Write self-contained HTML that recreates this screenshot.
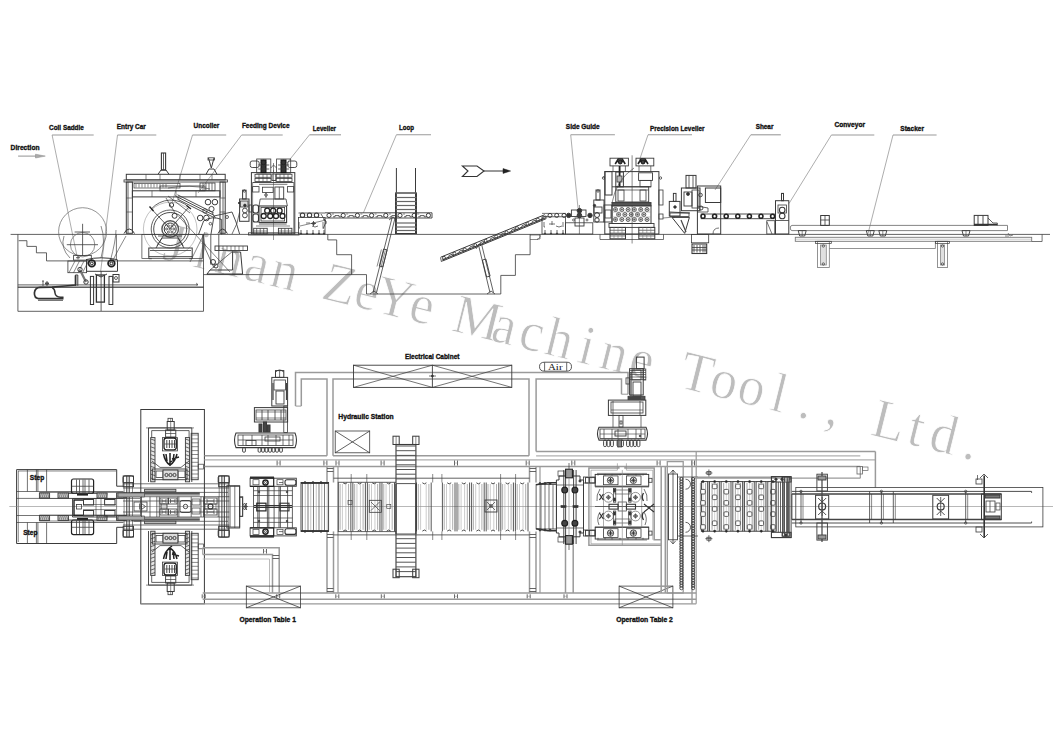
<!DOCTYPE html>
<html><head><meta charset="utf-8"><style>
html,body{margin:0;padding:0;background:#fff;}
svg{display:block;}
text{font-family:"Liberation Sans",sans-serif;font-weight:bold;fill:#111;stroke:#111;stroke-width:0.35;}
</style></head><body>
<svg width="1059" height="749" viewBox="0 0 1059 749">
<!-- WATERMARK -->
<g transform="translate(171.0,261.2) rotate(13.95) scale(0.95,1)"><text x="0.0 29.8 59.6 89.4 119.2 148.9 178.7 208.5 238.3 268.1 297.9 327.7 357.5 387.3 417.1 446.8 476.6 506.4 536.2 566.0 595.8 625.6 655.4 685.2 714.9 744.7 774.5 804.3 834.1 863.9" y="0" text-anchor="middle" font-size="56" style="font-family:'Liberation Serif',serif;font-weight:normal;fill:#bdbdbd;stroke:#fff;stroke-width:0.8;white-space:pre">Jinan ZeYe Machine Tool., Ltd.</text></g>
<g fill="none" stroke="#3a3a3a" stroke-width="0.8">
<text x="49.10" y="130.10" textLength="34.70" lengthAdjust="spacingAndGlyphs" font-size="7.4">Coil Saddle</text><line x1="52.10" y1="135.00" x2="93.70" y2="135.00" stroke="#9a9a9a" stroke-width="1.1"/><line x1="52.10" y1="135.00" x2="77.00" y2="256.00" stroke="#8a8a8a" stroke-width="0.7"/><text x="116.80" y="129.00" textLength="29.00" lengthAdjust="spacingAndGlyphs" font-size="7.4">Entry Car</text><line x1="117.50" y1="135.00" x2="156.30" y2="135.00" stroke="#9a9a9a" stroke-width="1.1"/><line x1="117.50" y1="135.00" x2="100.70" y2="271.00" stroke="#8a8a8a" stroke-width="0.7"/><text x="193.50" y="127.70" textLength="25.90" lengthAdjust="spacingAndGlyphs" font-size="7.4">Uncoiler</text><line x1="192.50" y1="135.00" x2="226.20" y2="135.00" stroke="#9a9a9a" stroke-width="1.1"/><line x1="192.50" y1="135.00" x2="172.00" y2="203.00" stroke="#8a8a8a" stroke-width="0.7"/><text x="241.90" y="127.90" textLength="47.70" lengthAdjust="spacingAndGlyphs" font-size="7.4">Feeding Device</text><line x1="241.60" y1="135.00" x2="282.70" y2="135.00" stroke="#9a9a9a" stroke-width="1.1"/><line x1="241.60" y1="135.00" x2="198.00" y2="193.00" stroke="#8a8a8a" stroke-width="0.7"/><text x="312.70" y="131.00" textLength="23.30" lengthAdjust="spacingAndGlyphs" font-size="7.4">Leveller</text><line x1="309.50" y1="134.80" x2="341.00" y2="134.80" stroke="#9a9a9a" stroke-width="1.1"/><line x1="309.50" y1="134.80" x2="287.00" y2="163.00" stroke="#8a8a8a" stroke-width="0.7"/><text x="399.00" y="129.50" textLength="15.00" lengthAdjust="spacingAndGlyphs" font-size="7.4">Loop</text><line x1="396.40" y1="134.80" x2="431.00" y2="134.80" stroke="#9a9a9a" stroke-width="1.1"/><line x1="396.40" y1="134.80" x2="363.40" y2="212.80" stroke="#8a8a8a" stroke-width="0.7"/><text x="565.80" y="129.00" textLength="33.90" lengthAdjust="spacingAndGlyphs" font-size="7.4">Side Guide</text><line x1="570.70" y1="134.80" x2="614.90" y2="134.80" stroke="#9a9a9a" stroke-width="1.1"/><line x1="570.70" y1="134.80" x2="578.00" y2="208.00" stroke="#8a8a8a" stroke-width="0.7"/><text x="650.00" y="130.50" textLength="54.50" lengthAdjust="spacingAndGlyphs" font-size="7.4">Precision Leveller</text><line x1="648.00" y1="134.80" x2="692.00" y2="134.80" stroke="#9a9a9a" stroke-width="1.1"/><line x1="648.00" y1="134.80" x2="639.50" y2="160.00" stroke="#8a8a8a" stroke-width="0.7"/><text x="755.70" y="129.00" textLength="17.70" lengthAdjust="spacingAndGlyphs" font-size="7.4">Shear</text><line x1="750.80" y1="134.80" x2="780.80" y2="134.80" stroke="#9a9a9a" stroke-width="1.1"/><line x1="750.80" y1="134.80" x2="715.00" y2="190.00" stroke="#8a8a8a" stroke-width="0.7"/><text x="834.50" y="127.00" textLength="30.50" lengthAdjust="spacingAndGlyphs" font-size="7.4">Conveyor</text><line x1="831.40" y1="135.00" x2="874.30" y2="135.00" stroke="#9a9a9a" stroke-width="1.1"/><line x1="831.40" y1="135.00" x2="789.00" y2="203.50" stroke="#8a8a8a" stroke-width="0.7"/><text x="900.30" y="130.50" textLength="23.70" lengthAdjust="spacingAndGlyphs" font-size="7.4">Stacker</text><line x1="893.00" y1="135.00" x2="936.60" y2="135.00" stroke="#9a9a9a" stroke-width="1.1"/><line x1="893.00" y1="135.00" x2="868.00" y2="233.70" stroke="#8a8a8a" stroke-width="0.7"/><text x="10.60" y="150.00" textLength="29.00" lengthAdjust="spacingAndGlyphs" font-size="7.4">Direction</text><line x1="18.10" y1="156.10" x2="38.00" y2="156.10" stroke="#777" stroke-width="0.8"/><polygon points="35.50,154.20 45.30,156.10 35.50,158.00" stroke="#888" stroke-width="0.5" fill="#aaa"/><line x1="10.60" y1="234.40" x2="1050.00" y2="234.40"/><polyline points="17.90,234.40 17.90,311.30 203.50,311.30 203.50,234.40"/><line x1="17.90" y1="287.20" x2="203.50" y2="287.20"/><polyline points="18.70,240.70 26.90,240.70 26.90,246.40 36.40,246.40 36.40,252.80 46.50,252.80 46.50,260.90 203.50,260.90"/><polyline points="203.50,274.60 366.50,274.60 366.50,294.00 500.80,294.00 500.80,275.40"/><polyline points="327.80,234.40 327.80,239.90 336.70,239.90 336.70,254.70 351.60,254.70 351.60,274.60"/><polyline points="530.10,234.40 530.10,254.70 515.40,254.70 515.40,275.40 500.80,275.40"/><polyline points="530.10,239.50 538.00,239.50 540.00,237.00 540.00,234.40" stroke-width="0.6"/><circle cx="82.60" cy="231.70" r="24.00" stroke="#666" stroke-width="0.7"/><circle cx="82.60" cy="244.70" r="12.20" stroke="#666" stroke-width="0.7"/><line x1="82.60" y1="223.80" x2="82.60" y2="256.00"/><line x1="74.60" y1="232.00" x2="90.00" y2="232.00"/><line x1="66.80" y1="244.70" x2="98.00" y2="244.70"/><path d="M101,258 Q106,240 101,226" stroke-width="0.6"/><path d="M110,262 Q116,240 116,230" stroke-width="0.6"/><path d="M112,262 Q118,250 126,236" stroke-width="0.6"/><path d="M70,258 Q60,248 64,236" stroke-width="0.6"/><rect x="73.60" y="255.40" width="17.70" height="4.70"/><line x1="76.00" y1="257.70" x2="80.00" y2="257.70"/><line x1="78.00" y1="256.00" x2="78.00" y2="259.40"/><rect x="67.90" y="261.00" width="18.70" height="11.70"/><line x1="69.00" y1="272.70" x2="75.00" y2="261.00" stroke-width="0.6"/><line x1="73.50" y1="272.70" x2="79.50" y2="261.00" stroke-width="0.6"/><line x1="78.00" y1="272.70" x2="84.00" y2="261.00" stroke-width="0.6"/><line x1="82.50" y1="272.70" x2="88.50" y2="261.00" stroke-width="0.6"/><polyline points="86.60,259.60 86.60,271.30 117.50,271.30 117.50,259.60" stroke-width="1.0"/><circle cx="91.80" cy="263.40" r="3.30" stroke="#222" stroke-width="1.8"/><circle cx="91.80" cy="263.40" r="1.40" stroke="#222" stroke-width="1.0"/><circle cx="111.40" cy="263.40" r="3.30" stroke="#222" stroke-width="1.8"/><circle cx="111.40" cy="263.40" r="1.40" stroke="#222" stroke-width="1.0"/><line x1="116.40" y1="234.40" x2="116.40" y2="259.60" stroke-width="0.7"/><path d="M86,259.6 Q101,256 117,259.6" stroke-width="1.0"/><line x1="17.90" y1="284.90" x2="198.00" y2="284.90"/><line x1="17.90" y1="287.20" x2="203.50" y2="287.20"/><path d="M196,283 l2,1.5 l-2,0.6" stroke-width="0.6"/><rect x="90.40" y="276.40" width="3.20" height="28.10" stroke="#333" stroke-width="1.0"/><rect x="109.00" y="276.40" width="3.80" height="28.10" stroke="#333" stroke-width="1.0"/><rect x="96.40" y="275.00" width="8.00" height="27.10" stroke="#333" stroke-width="1.3"/><line x1="101.10" y1="271.00" x2="101.10" y2="311.00"/><path d="M95,274 L101,277 L107,274" stroke-width="1.0"/><rect x="113.00" y="274.50" width="6.00" height="7.50" stroke-width="1.0"/><circle cx="116.00" cy="278.00" r="1.50"/><polyline points="75.40,285.80 75.40,275.00 77.80,275.00 77.80,285.80" stroke-width="1.0"/><path d="M80,270 L86,282" stroke="#777" stroke-width="2.2"/><circle cx="80.00" cy="269.50" r="2.20" stroke-width="1.0"/><circle cx="86.00" cy="282.00" r="2.20" stroke-width="1.0"/><path d="M63.5,298.6 L38.5,298.6 Q34.2,298.2 34.4,292.8 Q35,287.6 40,287.4 L52,287.2 Q66,285.8 75.6,285 L75.6,275.5" stroke="#333" stroke-width="1.7"/><path d="M52,287.4 Q55,289 55,293 Q55.5,296.8 60.5,297.2 L63.5,297.2" stroke="#333" stroke-width="1.5"/><line x1="38.00" y1="300.30" x2="63.00" y2="300.30" stroke="#555" stroke-width="1.0"/><line x1="43.00" y1="281.00" x2="43.00" y2="286.00"/><line x1="42.00" y1="281.00" x2="44.00" y2="281.00"/><circle cx="47.00" cy="283.50" r="1.50"/><line x1="45.00" y1="283.50" x2="49.00" y2="283.50"/><line x1="47.00" y1="281.50" x2="47.00" y2="285.50"/><rect x="126.30" y="174.30" width="98.90" height="5.60" stroke-width="1.0"/><rect x="124.00" y="179.90" width="103.40" height="2.10" stroke-width="0.8"/><line x1="146.00" y1="174.30" x2="146.00" y2="179.90" stroke-width="0.6"/><line x1="160.00" y1="174.30" x2="160.00" y2="179.90" stroke-width="0.6"/><line x1="180.00" y1="174.30" x2="180.00" y2="179.90" stroke-width="0.6"/><line x1="200.00" y1="174.30" x2="200.00" y2="179.90" stroke-width="0.6"/><line x1="212.00" y1="174.30" x2="212.00" y2="179.90" stroke-width="0.6"/><rect x="126.30" y="182.00" width="6.10" height="51.30" stroke-width="1.0"/><rect x="220.00" y="182.00" width="5.20" height="51.30" stroke-width="1.0"/><line x1="128.00" y1="182.00" x2="128.00" y2="233.00"/><line x1="223.00" y1="182.00" x2="223.00" y2="233.00"/><path d="M124,233.6 Q126,229 129.3,229 Q132.5,229 134.5,233.6" stroke-width="1.0"/><path d="M218,233.6 Q220,229 222.6,229 Q225,229 227.4,233.6" stroke-width="1.0"/><line x1="126.30" y1="198.00" x2="132.40" y2="198.00" stroke-width="0.6"/><line x1="220.00" y1="198.00" x2="225.20" y2="198.00" stroke-width="0.6"/><line x1="126.30" y1="212.00" x2="132.40" y2="212.00" stroke-width="0.6"/><line x1="220.00" y1="212.00" x2="225.20" y2="212.00" stroke-width="0.6"/><rect x="132.40" y="190.80" width="87.60" height="6.10" stroke-width="1.0"/><line x1="152.00" y1="190.80" x2="152.00" y2="196.90" stroke-width="0.6"/><line x1="176.00" y1="190.80" x2="176.00" y2="196.90" stroke-width="0.6"/><line x1="196.00" y1="190.80" x2="196.00" y2="196.90" stroke-width="0.6"/><rect x="134.00" y="183.50" width="46.00" height="4.50" stroke-width="0.7"/><line x1="136.00" y1="184.00" x2="136.00" y2="187.50" stroke-width="0.6"/><line x1="139.00" y1="184.00" x2="139.00" y2="187.50" stroke-width="0.6"/><line x1="142.00" y1="184.00" x2="142.00" y2="187.50" stroke-width="0.6"/><line x1="145.00" y1="184.00" x2="145.00" y2="187.50" stroke-width="0.6"/><line x1="148.00" y1="184.00" x2="148.00" y2="187.50" stroke-width="0.6"/><line x1="151.00" y1="184.00" x2="151.00" y2="187.50" stroke-width="0.6"/><line x1="154.00" y1="184.00" x2="154.00" y2="187.50" stroke-width="0.6"/><line x1="157.00" y1="184.00" x2="157.00" y2="187.50" stroke-width="0.6"/><line x1="160.00" y1="184.00" x2="160.00" y2="187.50" stroke-width="0.6"/><line x1="163.00" y1="184.00" x2="163.00" y2="187.50" stroke-width="0.6"/><line x1="166.00" y1="184.00" x2="166.00" y2="187.50" stroke-width="0.6"/><rect x="160.00" y="186.00" width="45.00" height="4.80" stroke-width="0.8"/><path d="M168,188 Q190,184 210,189" stroke-width="0.6"/><rect x="200.00" y="183.00" width="15.00" height="7.80" stroke-width="0.8"/><line x1="203.00" y1="183.00" x2="203.00" y2="190.80" stroke-width="0.7"/><line x1="206.00" y1="183.00" x2="206.00" y2="190.80" stroke-width="0.7"/><line x1="209.00" y1="183.00" x2="209.00" y2="190.80" stroke-width="0.7"/><line x1="212.00" y1="183.00" x2="212.00" y2="190.80" stroke-width="0.7"/><rect x="161.40" y="153.00" width="4.20" height="17.00" stroke-width="1.1"/><line x1="163.50" y1="153.00" x2="163.50" y2="170.00"/><polyline points="158.00,174.30 161.00,170.00 166.00,170.00 169.00,174.30" stroke-width="1.0"/><path d="M208.5,158 L211.3,168 L214,158" stroke-width="1.0"/><rect x="208.00" y="157.80" width="6.50" height="2.20" stroke-width="0.8"/><polyline points="206.00,174.30 209.00,169.00 214.00,169.00 217.00,174.30" stroke-width="1.0"/><circle cx="170.20" cy="229.00" r="26.80" stroke="#999" stroke-width="0.6"/><circle cx="170.20" cy="229.00" r="19.00" stroke-width="0.8"/><circle cx="170.20" cy="229.00" r="16.50" stroke-width="0.9"/><circle cx="170.20" cy="229.00" r="8.30" stroke="#555" stroke-width="1.4"/><circle cx="170.20" cy="229.00" r="6.00" stroke-width="1.0"/><circle cx="173.80" cy="229.00" r="1.00" stroke-width="0.8"/><circle cx="172.00" cy="232.12" r="1.00" stroke-width="0.8"/><circle cx="168.40" cy="232.12" r="1.00" stroke-width="0.8"/><circle cx="166.60" cy="229.00" r="1.00" stroke-width="0.8"/><circle cx="168.40" cy="225.88" r="1.00" stroke-width="0.8"/><circle cx="172.00" cy="225.88" r="1.00" stroke-width="0.8"/><circle cx="170.20" cy="229.00" r="1.20" stroke-width="0.8"/><path d="M151.4,208.9 L170.1,228.8 L188.8,207.2" stroke-width="0.8"/><path d="M151.4,208.9 A26,26 0 0 1 188.8,207.2" stroke-width="0.8"/><line x1="149.50" y1="206.50" x2="153.50" y2="211.00" stroke="#222" stroke-width="1.3"/><line x1="186.50" y1="205.50" x2="191.00" y2="209.00" stroke="#222" stroke-width="1.3"/><line x1="177.50" y1="194.80" x2="213.80" y2="213.00" stroke-width="0.9"/><line x1="177.50" y1="197.00" x2="213.80" y2="215.20" stroke-width="0.9"/><line x1="177.50" y1="199.20" x2="213.80" y2="217.40" stroke-width="0.9"/><line x1="175.50" y1="195.50" x2="179.00" y2="199.50" stroke-width="0.8"/><line x1="212.00" y1="213.00" x2="215.50" y2="218.00" stroke-width="0.8"/><circle cx="208.00" cy="202.10" r="2.80" stroke-width="1.0"/><circle cx="214.90" cy="202.10" r="2.80" stroke-width="1.0"/><circle cx="200.20" cy="218.00" r="2.80" stroke-width="1.0"/><circle cx="206.40" cy="218.00" r="2.80" stroke-width="1.0"/><circle cx="174.60" cy="215.80" r="2.50" stroke-width="1.0"/><circle cx="171.50" cy="205.00" r="2.20" stroke-width="1.0"/><circle cx="211.50" cy="209.00" r="2.60" stroke-width="0.9"/><circle cx="205.00" cy="211.00" r="2.20" stroke-width="0.8"/><path d="M166,198 L175,213 M168,196 L190,213" stroke-width="0.7"/><path d="M198.5,234.5 L203.6,221 Q212,215.5 221.7,219.5 L221.7,234.5" stroke-width="0.9"/><circle cx="210.40" cy="223.70" r="1.30" stroke-width="0.8"/><line x1="178.60" y1="216.30" x2="230.00" y2="272.00" stroke-width="0.6"/><line x1="157.00" y1="245.80" x2="164.40" y2="233.90" stroke-width="0.8"/><line x1="183.20" y1="245.80" x2="175.80" y2="233.90" stroke-width="0.8"/><rect x="148.80" y="248.00" width="43.40" height="8.70" stroke-width="1.0"/><line x1="150.00" y1="250.50" x2="191.00" y2="250.50"/><path d="M156,248 L162,238 L178,238 L184,248" stroke-width="0.9"/><line x1="158.00" y1="236.00" x2="182.00" y2="236.00"/><path d="M148.8,256.7 l0,2 l3,0 M192.2,256.7 l0,2 l-3,0" stroke-width="0.8"/><rect x="141.90" y="234.40" width="60.70" height="24.10" stroke-width="0.7"/><line x1="205.00" y1="232.00" x2="190.00" y2="262.00" stroke-width="0.6"/><path d="M211,234 L214,216 L232,212 L236,222 L239.6,234" stroke-width="0.9"/><circle cx="227.00" cy="217.00" r="1.50"/><path d="M232,234 Q238,224 239.6,212" stroke-width="0.7"/><polyline points="206.90,274.20 210.00,270.00 232.60,270.00 232.60,252.00 240.60,252.00 242.60,274.20" stroke-width="1.0"/><line x1="206.90" y1="274.20" x2="242.60" y2="274.20" stroke-width="1.3"/><line x1="210.00" y1="270.00" x2="233.00" y2="251.00" stroke-width="0.7"/><rect x="215.00" y="246.00" width="32.50" height="4.50" stroke-width="0.9"/><line x1="219.00" y1="246.00" x2="219.00" y2="250.50" stroke-width="0.6"/><line x1="223.00" y1="246.00" x2="223.00" y2="250.50" stroke-width="0.6"/><line x1="227.00" y1="246.00" x2="227.00" y2="250.50" stroke-width="0.6"/><line x1="231.00" y1="246.00" x2="231.00" y2="250.50" stroke-width="0.6"/><line x1="235.00" y1="246.00" x2="235.00" y2="250.50" stroke-width="0.6"/><line x1="239.00" y1="246.00" x2="239.00" y2="250.50" stroke-width="0.6"/><line x1="243.00" y1="246.00" x2="243.00" y2="250.50" stroke-width="0.6"/><line x1="210.80" y1="234.40" x2="210.80" y2="264.70"/><line x1="218.80" y1="234.40" x2="218.80" y2="264.70"/><circle cx="213.00" cy="262.00" r="2.50" stroke-width="1.0"/><circle cx="216.00" cy="266.00" r="2.00" stroke-width="1.0"/><path d="M203.5,234.4 L205,248 L214,268" stroke-width="0.7"/><rect x="251.40" y="172.60" width="43.40" height="61.40" stroke-width="1.0"/><rect x="250.2" y="161" width="9" height="6.5" rx="2" stroke-width="0.9"/><rect x="287.8" y="161" width="9" height="6.5" rx="2" stroke-width="0.9"/><rect x="256.70" y="159.00" width="14.10" height="14.10" stroke-width="0.8"/><rect x="261.00" y="160.00" width="5.00" height="12.60" stroke="#111" stroke-width="1.0" fill="#333"/><line x1="258.20" y1="165.00" x2="269.30" y2="165.00" stroke-width="0.8"/><line x1="258.20" y1="169.00" x2="269.30" y2="169.00" stroke-width="0.8"/><circle cx="263.50" cy="162.50" r="2.20" stroke="#222" stroke-width="1.0"/><rect x="276.60" y="159.00" width="14.10" height="14.10" stroke-width="0.8"/><rect x="281.00" y="160.00" width="5.00" height="12.60" stroke="#111" stroke-width="1.0" fill="#333"/><line x1="278.10" y1="165.00" x2="289.20" y2="165.00" stroke-width="0.8"/><line x1="278.10" y1="169.00" x2="289.20" y2="169.00" stroke-width="0.8"/><circle cx="283.50" cy="162.50" r="2.20" stroke="#222" stroke-width="1.0"/><line x1="273.50" y1="163.00" x2="273.50" y2="172.00" stroke-width="0.6"/><path d="M270.8,168 L273.5,165 L276.6,168" stroke-width="0.7"/><rect x="255.00" y="174.30" width="16.00" height="3.00" stroke-width="0.8"/><rect x="255.00" y="178.40" width="16.00" height="3.00" stroke-width="0.8"/><line x1="259.00" y1="174.30" x2="259.00" y2="181.40" stroke-width="0.6"/><line x1="263.00" y1="174.30" x2="263.00" y2="181.40" stroke-width="0.6"/><line x1="267.00" y1="174.30" x2="267.00" y2="181.40" stroke-width="0.6"/><rect x="276.00" y="174.30" width="16.00" height="3.00" stroke-width="0.8"/><rect x="276.00" y="178.40" width="16.00" height="3.00" stroke-width="0.8"/><line x1="280.00" y1="174.30" x2="280.00" y2="181.40" stroke-width="0.6"/><line x1="284.00" y1="174.30" x2="284.00" y2="181.40" stroke-width="0.6"/><line x1="288.00" y1="174.30" x2="288.00" y2="181.40" stroke-width="0.6"/><rect x="272.00" y="174.00" width="4.00" height="6.50" stroke-width="0.9"/><polyline points="252.60,182.50 293.70,182.50" stroke-width="0.9"/><polyline points="252.60,234.00 252.60,182.50" stroke-width="0.6"/><polyline points="293.70,234.00 293.70,182.50" stroke-width="0.6"/><line x1="259.00" y1="184.30" x2="287.40" y2="184.30" stroke-width="0.7"/><rect x="252.60" y="186.60" width="6.40" height="5.40" stroke-width="0.8"/><rect x="287.40" y="186.60" width="6.30" height="5.40" stroke-width="0.8"/><rect x="262.50" y="187.20" width="10.60" height="5.30" stroke-width="0.8"/><rect x="274.90" y="187.00" width="8.80" height="12.00" stroke-width="0.9"/><line x1="279.30" y1="187.00" x2="279.30" y2="199.00" stroke-width="0.7"/><circle cx="266.00" cy="195.00" r="1.30" stroke-width="0.8"/><line x1="266.00" y1="192.50" x2="266.00" y2="198.00" stroke-width="0.7"/><polyline points="259.00,206.00 260.20,199.00 286.00,199.00 287.40,206.00" stroke-width="0.8"/><line x1="273.50" y1="170.00" x2="273.50" y2="240.00" stroke-width="0.5"/><rect x="259.00" y="206.00" width="27.60" height="16.50" stroke-width="1.1"/><rect x="261.00" y="207.50" width="23.60" height="13.50" stroke-width="0.8"/><circle cx="267.20" cy="210.70" r="2.50" stroke="#222" stroke-width="1.3"/><circle cx="273.10" cy="210.70" r="2.50" stroke="#222" stroke-width="1.3"/><circle cx="279.60" cy="210.70" r="2.50" stroke="#222" stroke-width="1.3"/><circle cx="263.70" cy="216.00" r="2.50" stroke="#222" stroke-width="1.3"/><circle cx="270.20" cy="216.00" r="2.50" stroke="#222" stroke-width="1.3"/><circle cx="276.00" cy="216.00" r="2.50" stroke="#222" stroke-width="1.3"/><circle cx="282.50" cy="216.00" r="2.50" stroke="#222" stroke-width="1.3"/><rect x="253" y="205" width="5.5" height="8" rx="2" stroke-width="1.1" stroke="#333"/><rect x="253" y="214" width="5.5" height="8" rx="2" stroke-width="1.1" stroke="#333"/><line x1="259.00" y1="224.00" x2="286.60" y2="224.00" stroke-width="0.8"/><line x1="256.00" y1="226.00" x2="290.00" y2="226.00" stroke-width="0.6"/><rect x="253.70" y="228.30" width="13.50" height="5.70" stroke-width="0.9"/><line x1="256.70" y1="228.30" x2="256.70" y2="234.00" stroke-width="0.7"/><line x1="260.20" y1="228.30" x2="260.20" y2="234.00" stroke-width="0.7"/><line x1="263.70" y1="228.30" x2="263.70" y2="234.00" stroke-width="0.7"/><line x1="253.70" y1="231.00" x2="267.20" y2="231.00" stroke-width="0.6"/><rect x="278.40" y="228.30" width="13.50" height="5.70" stroke-width="0.9"/><line x1="281.40" y1="228.30" x2="281.40" y2="234.00" stroke-width="0.7"/><line x1="284.90" y1="228.30" x2="284.90" y2="234.00" stroke-width="0.7"/><line x1="288.40" y1="228.30" x2="288.40" y2="234.00" stroke-width="0.7"/><line x1="278.40" y1="231.00" x2="291.90" y2="231.00" stroke-width="0.6"/><rect x="248.50" y="232.80" width="50.50" height="2.20" stroke-width="0.8"/><rect x="242.60" y="190.20" width="3.50" height="8.80" stroke-width="1.0"/><circle cx="244.35" cy="191.00" r="1.20" stroke-width="0.8"/><rect x="239.60" y="199.00" width="9.40" height="22.30" stroke-width="1.0"/><rect x="240.50" y="201.00" width="7.50" height="6.00" stroke-width="0.8" fill="#ddd"/><circle cx="244.90" cy="205.40" r="1.30" fill="#333"/><circle cx="244.90" cy="210.50" r="2.40" stroke-width="0.9"/><circle cx="244.90" cy="215.40" r="2.40" stroke-width="0.9"/><rect x="249.00" y="205.00" width="3.00" height="7.00" stroke-width="0.8"/><line x1="238.00" y1="203.00" x2="240.00" y2="203.00" stroke="#222" stroke-width="1.4"/><rect x="298.50" y="217.50" width="26.50" height="16.50" stroke-width="0.8"/><circle cx="302.50" cy="215.20" r="2.20" stroke-width="1.1"/><circle cx="309.50" cy="215.20" r="2.20" stroke-width="1.1"/><circle cx="316.50" cy="215.20" r="2.20" stroke-width="1.1"/><line x1="298.50" y1="213.00" x2="325.00" y2="213.00" stroke-width="0.8"/><path d="M299,222 l0,6 l1,0 M306,223 l4,0 M312,226 q3,2 6,0 M323,222 l0,6" stroke-width="0.7"/><circle cx="313.50" cy="223.50" r="1.20"/><line x1="311.00" y1="223.50" x2="316.00" y2="223.50"/><line x1="313.50" y1="221.00" x2="313.50" y2="226.00"/><line x1="301.00" y1="230.00" x2="301.00" y2="234.00" stroke-width="0.8"/><circle cx="301.00" cy="233.60" r="0.60" fill="#333"/><line x1="307.00" y1="230.00" x2="307.00" y2="234.00" stroke-width="0.8"/><circle cx="307.00" cy="233.60" r="0.60" fill="#333"/><line x1="313.00" y1="230.00" x2="313.00" y2="234.00" stroke-width="0.8"/><circle cx="313.00" cy="233.60" r="0.60" fill="#333"/><line x1="319.00" y1="230.00" x2="319.00" y2="234.00" stroke-width="0.8"/><circle cx="319.00" cy="233.60" r="0.60" fill="#333"/><line x1="324.00" y1="230.00" x2="324.00" y2="234.00" stroke-width="0.8"/><circle cx="324.00" cy="233.60" r="0.60" fill="#333"/><path d="M321,214 L326,222 L323,229" stroke-width="0.8"/><line x1="325.00" y1="212.80" x2="432.00" y2="212.80" stroke-width="0.9"/><line x1="325.00" y1="218.00" x2="432.00" y2="218.00" stroke-width="0.9"/><line x1="432.00" y1="212.80" x2="432.00" y2="218.00" stroke-width="0.9"/><circle cx="329.00" cy="215.40" r="2.10" stroke-width="1.0"/><path d="M333.0,216.8 l2,0 l0,-1.2 l4,0 l0,1.2 l2,0" stroke="#333" stroke-width="0.8"/><line x1="332.00" y1="214.00" x2="334.00" y2="214.00" stroke-width="0.6"/><circle cx="343.20" cy="215.40" r="2.10" stroke-width="1.0"/><path d="M347.2,216.8 l2,0 l0,-1.2 l4,0 l0,1.2 l2,0" stroke="#333" stroke-width="0.8"/><line x1="346.20" y1="214.00" x2="348.20" y2="214.00" stroke-width="0.6"/><circle cx="357.40" cy="215.40" r="2.10" stroke-width="1.0"/><path d="M361.4,216.8 l2,0 l0,-1.2 l4,0 l0,1.2 l2,0" stroke="#333" stroke-width="0.8"/><line x1="360.40" y1="214.00" x2="362.40" y2="214.00" stroke-width="0.6"/><circle cx="371.60" cy="215.40" r="2.10" stroke-width="1.0"/><path d="M375.6,216.8 l2,0 l0,-1.2 l4,0 l0,1.2 l2,0" stroke="#333" stroke-width="0.8"/><line x1="374.60" y1="214.00" x2="376.60" y2="214.00" stroke-width="0.6"/><circle cx="385.80" cy="215.40" r="2.10" stroke-width="1.0"/><path d="M389.8,216.8 l2,0 l0,-1.2 l4,0 l0,1.2 l2,0" stroke="#333" stroke-width="0.8"/><line x1="388.80" y1="214.00" x2="390.80" y2="214.00" stroke-width="0.6"/><circle cx="400.00" cy="215.40" r="2.10" stroke-width="1.0"/><path d="M404.0,216.8 l2,0 l0,-1.2 l4,0 l0,1.2 l2,0" stroke="#333" stroke-width="0.8"/><line x1="403.00" y1="214.00" x2="405.00" y2="214.00" stroke-width="0.6"/><circle cx="414.20" cy="215.40" r="2.10" stroke-width="1.0"/><path d="M418.2,216.8 l2,0 l0,-1.2 l4,0 l0,1.2 l2,0" stroke="#333" stroke-width="0.8"/><line x1="417.20" y1="214.00" x2="419.20" y2="214.00" stroke-width="0.6"/><circle cx="428.40" cy="215.40" r="2.10" stroke-width="1.0"/><line x1="326.00" y1="220.00" x2="300.00" y2="226.00" stroke-width="0.6"/><path d="M323,219 l3,2 l0,3" stroke-width="0.7"/><line x1="396.40" y1="168.00" x2="396.40" y2="234.00" stroke-width="1.0"/><line x1="415.50" y1="168.00" x2="415.50" y2="234.00" stroke-width="1.0"/><rect x="395.50" y="193.00" width="21.00" height="40.50" stroke-width="1.0"/><line x1="395.50" y1="193.00" x2="416.50" y2="193.00" stroke="#666" stroke-width="1.2"/><line x1="395.50" y1="197.50" x2="416.50" y2="197.50" stroke="#666" stroke-width="1.2"/><line x1="395.50" y1="201.50" x2="416.50" y2="201.50" stroke="#666" stroke-width="1.2"/><line x1="395.50" y1="205.50" x2="416.50" y2="205.50" stroke="#666" stroke-width="1.2"/><line x1="395.50" y1="209.50" x2="416.50" y2="209.50" stroke="#666" stroke-width="1.2"/><line x1="395.50" y1="223.00" x2="416.50" y2="223.00" stroke="#666" stroke-width="1.2"/><line x1="395.50" y1="227.00" x2="416.50" y2="227.00" stroke="#666" stroke-width="1.2"/><line x1="395.50" y1="230.50" x2="416.50" y2="230.50" stroke="#666" stroke-width="1.2"/><path d="M392,218 L373,292.7 M395,218 L376.5,292.7" stroke-width="0.8"/><path d="M383.6,249 L379.3,266 L382.8,266.9 L387.1,249.9 Z" stroke-width="0.9"/><path d="M381.4,249.5 L377,266.5 M385.3,250.5 L381,267.5" stroke-width="0.6"/><path d="M370,294 l4,-3 l4,3" stroke-width="0.8"/><path d="M389,220 l4,-3 l4,3" stroke-width="0.8"/><polygon points="462.40,166.00 477.00,166.00 484.00,171.00 477.00,176.50 462.40,176.50 468.00,171.00" stroke="#333" stroke-width="1.1"/><line x1="484.00" y1="171.00" x2="503.00" y2="171.00" stroke="#333" stroke-width="1.0"/><polygon points="503.00,168.60 510.60,171.00 503.00,173.40" stroke="#222" stroke-width="0.5" fill="#222"/><line x1="440.70" y1="257.20" x2="544.80" y2="214.70" stroke-width="1.0"/><line x1="442.29" y1="261.09" x2="546.39" y2="218.59" stroke-width="1.0"/><line x1="441.91" y1="260.16" x2="546.01" y2="217.66" stroke-width="1.0"/><circle cx="444.00" cy="257.90" r="1.50" stroke-width="0.9"/><path d="M446.5,257.8 l2.5,-1 l0,-1.3 l3.2,-1.3 l0,1.3 l1.5,-0.6" stroke="#333" stroke-width="0.8"/><circle cx="454.43" cy="253.64" r="1.50" stroke-width="0.9"/><path d="M456.9,253.5 l2.5,-1 l0,-1.3 l3.2,-1.3 l0,1.3 l1.5,-0.6" stroke="#333" stroke-width="0.8"/><circle cx="464.86" cy="249.38" r="1.50" stroke-width="0.9"/><path d="M467.4,249.3 l2.5,-1 l0,-1.3 l3.2,-1.3 l0,1.3 l1.5,-0.6" stroke="#333" stroke-width="0.8"/><circle cx="475.29" cy="245.13" r="1.50" stroke-width="0.9"/><path d="M477.8,245.0 l2.5,-1 l0,-1.3 l3.2,-1.3 l0,1.3 l1.5,-0.6" stroke="#333" stroke-width="0.8"/><circle cx="485.72" cy="240.87" r="1.50" stroke-width="0.9"/><path d="M488.2,240.8 l2.5,-1 l0,-1.3 l3.2,-1.3 l0,1.3 l1.5,-0.6" stroke="#333" stroke-width="0.8"/><circle cx="496.15" cy="236.61" r="1.50" stroke-width="0.9"/><path d="M498.7,236.5 l2.5,-1 l0,-1.3 l3.2,-1.3 l0,1.3 l1.5,-0.6" stroke="#333" stroke-width="0.8"/><circle cx="506.58" cy="232.35" r="1.50" stroke-width="0.9"/><path d="M509.1,232.3 l2.5,-1 l0,-1.3 l3.2,-1.3 l0,1.3 l1.5,-0.6" stroke="#333" stroke-width="0.8"/><circle cx="517.01" cy="228.09" r="1.50" stroke-width="0.9"/><path d="M519.5,228.0 l2.5,-1 l0,-1.3 l3.2,-1.3 l0,1.3 l1.5,-0.6" stroke="#333" stroke-width="0.8"/><circle cx="527.44" cy="223.84" r="1.50" stroke-width="0.9"/><path d="M529.9,223.7 l2.5,-1 l0,-1.3 l3.2,-1.3 l0,1.3 l1.5,-0.6" stroke="#333" stroke-width="0.8"/><circle cx="537.87" cy="219.58" r="1.50" stroke-width="0.9"/><path d="M540.4,219.5 l2.5,-1 l0,-1.3 l3.2,-1.3 l0,1.3 l1.5,-0.6" stroke="#333" stroke-width="0.8"/><line x1="440.50" y1="257.50" x2="441.50" y2="262.00" stroke-width="0.8"/><path d="M479,247 L490,292.7 M482,246 L493.5,292.7" stroke-width="0.8"/><path d="M482.4,260 L486.6,277 L490.1,276.1 L485.9,259.1 Z" stroke-width="0.9"/><path d="M487,294 l4,-3 l4,3" stroke-width="0.8"/><path d="M476,249 l3,-5 l4,1" stroke-width="0.8"/><polyline points="600.00,234.40 600.00,239.50 663.50,239.50 663.50,234.40" stroke-width="0.7"/><polyline points="530.00,235.00 540.00,235.00 540.00,239.00 537.00,239.00" stroke-width="0.6"/><rect x="542.00" y="216.80" width="23.40" height="17.20" stroke-width="0.8"/><circle cx="550.00" cy="215.40" r="2.00" stroke-width="1.0"/><circle cx="556.70" cy="215.40" r="2.00" stroke-width="1.0"/><circle cx="564.00" cy="215.40" r="2.00" stroke-width="1.0"/><line x1="542.00" y1="213.40" x2="566.00" y2="213.40" stroke-width="0.7"/><circle cx="568.70" cy="215.40" r="2.20" stroke-width="1.0" fill="#333"/><circle cx="590.00" cy="215.40" r="2.20" stroke-width="1.0" fill="#333"/><path d="M544,222 l0,5 l1,0 M552,221 l0,4 M549,224 l6,0 M556,226 q3,2 6,0 M563,222 l0,5" stroke-width="0.7"/><line x1="545.00" y1="230.00" x2="545.00" y2="234.00" stroke-width="0.8"/><circle cx="545.00" cy="233.50" r="0.60" fill="#333"/><line x1="551.00" y1="230.00" x2="551.00" y2="234.00" stroke-width="0.8"/><circle cx="551.00" cy="233.50" r="0.60" fill="#333"/><line x1="557.00" y1="230.00" x2="557.00" y2="234.00" stroke-width="0.8"/><circle cx="557.00" cy="233.50" r="0.60" fill="#333"/><line x1="563.00" y1="230.00" x2="563.00" y2="234.00" stroke-width="0.8"/><circle cx="563.00" cy="233.50" r="0.60" fill="#333"/><rect x="565.40" y="222.80" width="27.40" height="11.20" stroke-width="0.8"/><rect x="571.40" y="210.00" width="14.60" height="6.50" stroke-width="0.9"/><circle cx="579.40" cy="210.70" r="2.30" stroke-width="1.0" fill="#333"/><circle cx="579.40" cy="215.40" r="2.30" stroke-width="1.0" fill="#444"/><rect x="575.00" y="218.00" width="9.00" height="8.00" stroke-width="0.9"/><line x1="579.40" y1="205.00" x2="579.40" y2="234.00" stroke-width="0.6"/><circle cx="573.50" cy="220.00" r="1.00" stroke-width="0.7"/><circle cx="587.00" cy="220.00" r="1.00" stroke-width="0.7"/><rect x="593.80" y="200.00" width="10.20" height="22.00" stroke-width="0.9"/><rect x="596.00" y="190.00" width="4.00" height="10.00" stroke-width="1.0"/><circle cx="598.00" cy="191.00" r="1.20" stroke-width="0.8"/><rect x="594.00" y="207.00" width="8.00" height="6.00" stroke-width="0.9"/><circle cx="597.00" cy="215.00" r="2.50" stroke-width="1.0"/><circle cx="597.00" cy="220.00" r="2.20" stroke-width="1.0"/><circle cx="594.50" cy="205.50" r="1.20" fill="#333"/><rect x="604.00" y="205.00" width="8.00" height="17.00" stroke-width="0.9"/><rect x="605.00" y="210.00" width="6.00" height="8.00" stroke-width="0.8"/><rect x="604.80" y="171.60" width="54.10" height="62.40" stroke-width="1.0"/><rect x="605.00" y="171.60" width="7.00" height="23.40" stroke-width="1.0"/><line x1="603.00" y1="177.00" x2="605.00" y2="177.00"/><circle cx="603.50" cy="178.00" r="1.20" stroke-width="0.8"/><circle cx="660.50" cy="178.00" r="1.20" stroke-width="0.8"/><line x1="632.10" y1="155.30" x2="632.10" y2="243.50" stroke-width="0.6"/><rect x="610.00" y="158.20" width="18.40" height="7.70" stroke-width="0.9"/><path d="M615.2,164 L618.2,159 L622.2,159 L625.2,164 M616.2,161.5 L624.2,161.5" stroke="#222" stroke-width="1.6"/><circle cx="620.20" cy="162.00" r="1.80" stroke="#222" stroke-width="1.2" fill="#444"/><line x1="613.00" y1="165.90" x2="613.00" y2="171.60" stroke-width="0.7"/><line x1="625.40" y1="165.90" x2="625.40" y2="171.60" stroke-width="0.7"/><rect x="636.00" y="158.20" width="17.80" height="7.70" stroke-width="0.9"/><path d="M638,164 L641,159 L645,159 L648,164 M639,161.5 L647,161.5" stroke="#222" stroke-width="1.6"/><circle cx="643.00" cy="162.00" r="1.80" stroke="#222" stroke-width="1.2" fill="#444"/><line x1="639.00" y1="165.90" x2="639.00" y2="171.60" stroke-width="0.7"/><line x1="650.80" y1="165.90" x2="650.80" y2="171.60" stroke-width="0.7"/><rect x="615.80" y="172.00" width="7.60" height="14.80" stroke-width="1.0"/><line x1="619.60" y1="166.00" x2="619.60" y2="187.00" stroke="#222" stroke-width="1.8"/><rect x="617.00" y="176.00" width="5.00" height="6.00" stroke-width="0.8" fill="#bbb"/><rect x="638.60" y="172.80" width="13.90" height="7.60" stroke-width="0.9"/><rect x="640.00" y="180.40" width="11.00" height="6.40" stroke-width="0.8"/><line x1="612.00" y1="186.80" x2="651.00" y2="186.80" stroke-width="0.9"/><line x1="615.80" y1="190.00" x2="648.70" y2="190.00" stroke-width="0.7"/><rect x="615.80" y="186.80" width="32.90" height="15.20" stroke-width="0.9"/><rect x="618.00" y="190.00" width="6.00" height="11.00" stroke-width="0.8"/><rect x="640.00" y="190.00" width="6.00" height="11.00" stroke-width="0.8"/><path d="M612,203 Q616,180 634,168" stroke-width="0.6"/><rect x="612.00" y="202.60" width="39.00" height="3.20" stroke-width="1.0" fill="#555"/><rect x="612.00" y="205.80" width="39.00" height="17.70" stroke-width="1.0"/><circle cx="615.50" cy="209.50" r="2.00" stroke-width="0.8"/><line x1="614.20" y1="209.50" x2="616.80" y2="209.50" stroke-width="0.6"/><line x1="615.50" y1="208.20" x2="615.50" y2="210.80" stroke-width="0.6"/><circle cx="621.80" cy="209.50" r="2.00" stroke-width="0.8"/><line x1="620.50" y1="209.50" x2="623.10" y2="209.50" stroke-width="0.6"/><line x1="621.80" y1="208.20" x2="621.80" y2="210.80" stroke-width="0.6"/><circle cx="628.10" cy="209.50" r="2.00" stroke-width="0.8"/><line x1="626.80" y1="209.50" x2="629.40" y2="209.50" stroke-width="0.6"/><line x1="628.10" y1="208.20" x2="628.10" y2="210.80" stroke-width="0.6"/><circle cx="634.40" cy="209.50" r="2.00" stroke-width="0.8"/><line x1="633.10" y1="209.50" x2="635.70" y2="209.50" stroke-width="0.6"/><line x1="634.40" y1="208.20" x2="634.40" y2="210.80" stroke-width="0.6"/><circle cx="640.70" cy="209.50" r="2.00" stroke-width="0.8"/><line x1="639.40" y1="209.50" x2="642.00" y2="209.50" stroke-width="0.6"/><line x1="640.70" y1="208.20" x2="640.70" y2="210.80" stroke-width="0.6"/><circle cx="647.00" cy="209.50" r="2.00" stroke-width="0.8"/><line x1="645.70" y1="209.50" x2="648.30" y2="209.50" stroke-width="0.6"/><line x1="647.00" y1="208.20" x2="647.00" y2="210.80" stroke-width="0.6"/><circle cx="618.60" cy="214.50" r="2.00" stroke-width="0.8"/><line x1="617.30" y1="214.50" x2="619.90" y2="214.50" stroke-width="0.6"/><line x1="618.60" y1="213.20" x2="618.60" y2="215.80" stroke-width="0.6"/><circle cx="624.90" cy="214.50" r="2.00" stroke-width="0.8"/><line x1="623.60" y1="214.50" x2="626.20" y2="214.50" stroke-width="0.6"/><line x1="624.90" y1="213.20" x2="624.90" y2="215.80" stroke-width="0.6"/><circle cx="631.20" cy="214.50" r="2.00" stroke-width="0.8"/><line x1="629.90" y1="214.50" x2="632.50" y2="214.50" stroke-width="0.6"/><line x1="631.20" y1="213.20" x2="631.20" y2="215.80" stroke-width="0.6"/><circle cx="637.50" cy="214.50" r="2.00" stroke-width="0.8"/><line x1="636.20" y1="214.50" x2="638.80" y2="214.50" stroke-width="0.6"/><line x1="637.50" y1="213.20" x2="637.50" y2="215.80" stroke-width="0.6"/><circle cx="643.80" cy="214.50" r="2.00" stroke-width="0.8"/><line x1="642.50" y1="214.50" x2="645.10" y2="214.50" stroke-width="0.6"/><line x1="643.80" y1="213.20" x2="643.80" y2="215.80" stroke-width="0.6"/><circle cx="615.50" cy="219.50" r="2.00" stroke-width="0.8"/><line x1="614.20" y1="219.50" x2="616.80" y2="219.50" stroke-width="0.6"/><line x1="615.50" y1="218.20" x2="615.50" y2="220.80" stroke-width="0.6"/><circle cx="621.80" cy="219.50" r="2.00" stroke-width="0.8"/><line x1="620.50" y1="219.50" x2="623.10" y2="219.50" stroke-width="0.6"/><line x1="621.80" y1="218.20" x2="621.80" y2="220.80" stroke-width="0.6"/><circle cx="628.10" cy="219.50" r="2.00" stroke-width="0.8"/><line x1="626.80" y1="219.50" x2="629.40" y2="219.50" stroke-width="0.6"/><line x1="628.10" y1="218.20" x2="628.10" y2="220.80" stroke-width="0.6"/><circle cx="634.40" cy="219.50" r="2.00" stroke-width="0.8"/><line x1="633.10" y1="219.50" x2="635.70" y2="219.50" stroke-width="0.6"/><line x1="634.40" y1="218.20" x2="634.40" y2="220.80" stroke-width="0.6"/><circle cx="640.70" cy="219.50" r="2.00" stroke-width="0.8"/><line x1="639.40" y1="219.50" x2="642.00" y2="219.50" stroke-width="0.6"/><line x1="640.70" y1="218.20" x2="640.70" y2="220.80" stroke-width="0.6"/><circle cx="647.00" cy="219.50" r="2.00" stroke-width="0.8"/><line x1="645.70" y1="219.50" x2="648.30" y2="219.50" stroke-width="0.6"/><line x1="647.00" y1="218.20" x2="647.00" y2="220.80" stroke-width="0.6"/><line x1="612.00" y1="212.00" x2="651.00" y2="212.00" stroke="#888" stroke-width="0.5"/><line x1="612.00" y1="217.00" x2="651.00" y2="217.00" stroke="#888" stroke-width="0.5"/><rect x="609.00" y="223.50" width="45.00" height="3.90" stroke-width="0.9"/><rect x="610.00" y="227.40" width="15.50" height="11.40" stroke-width="1.0"/><line x1="610.00" y1="230.25" x2="625.50" y2="230.25" stroke-width="0.7"/><line x1="610.00" y1="233.10" x2="625.50" y2="233.10" stroke-width="0.7"/><line x1="610.00" y1="235.95" x2="625.50" y2="235.95" stroke-width="0.7"/><line x1="614.00" y1="227.40" x2="614.00" y2="238.80" stroke="#777" stroke-width="0.6"/><line x1="618.00" y1="227.40" x2="618.00" y2="238.80" stroke="#777" stroke-width="0.6"/><line x1="622.00" y1="227.40" x2="622.00" y2="238.80" stroke="#777" stroke-width="0.6"/><rect x="638.80" y="227.40" width="16.00" height="11.40" stroke-width="1.0"/><line x1="638.80" y1="230.25" x2="654.80" y2="230.25" stroke-width="0.7"/><line x1="638.80" y1="233.10" x2="654.80" y2="233.10" stroke-width="0.7"/><line x1="638.80" y1="235.95" x2="654.80" y2="235.95" stroke-width="0.7"/><line x1="642.80" y1="227.40" x2="642.80" y2="238.80" stroke="#777" stroke-width="0.6"/><line x1="646.80" y1="227.40" x2="646.80" y2="238.80" stroke="#777" stroke-width="0.6"/><line x1="650.80" y1="227.40" x2="650.80" y2="238.80" stroke="#777" stroke-width="0.6"/><rect x="658.90" y="190.00" width="4.10" height="15.00" stroke-width="0.8"/><rect x="658.90" y="214.00" width="4.10" height="5.00" stroke-width="0.8"/><line x1="663.00" y1="218.00" x2="675.00" y2="217.00" stroke-width="0.6"/><rect x="697.40" y="186.00" width="23.30" height="48.00" stroke-width="1.0"/><rect x="705.40" y="188.00" width="15.30" height="14.50" stroke-width="1.0"/><rect x="686.00" y="175.40" width="10.00" height="12.60" stroke-width="1.0"/><line x1="689.00" y1="175.40" x2="689.00" y2="188.00"/><line x1="693.00" y1="175.40" x2="693.00" y2="188.00"/><rect x="681.40" y="188.00" width="18.60" height="22.70" stroke-width="1.0"/><rect x="684.00" y="192.00" width="8.00" height="14.00" stroke-width="0.9"/><circle cx="688.00" cy="194.00" r="1.50" fill="#333"/><rect x="692.00" y="190.00" width="7.00" height="18.00" stroke-width="0.8"/><circle cx="700.50" cy="195.00" r="1.80" stroke-width="0.9"/><circle cx="701.00" cy="208.00" r="2.00" stroke-width="0.9"/><path d="M697,206 L708,208 L708,212 L697,212" stroke-width="0.8"/><polygon points="672.00,217.40 689.40,217.40 684.70,233.40" stroke-width="1.0"/><line x1="681.00" y1="220.00" x2="686.00" y2="232.00" stroke="#444" stroke-width="1.2"/><rect x="669.30" y="201.40" width="10.70" height="14.60" stroke-width="1.0"/><rect x="673.40" y="193.40" width="2.60" height="8.00" stroke-width="1.0"/><circle cx="675.00" cy="207.00" r="1.30" fill="#333"/><line x1="669.00" y1="212.00" x2="690.00" y2="213.00" stroke="#444" stroke-width="1.2"/><rect x="670.00" y="213.00" width="19.00" height="3.50" stroke-width="0.8"/><path d="M713,234 q0,-6 6,-6" stroke-width="0.7"/><rect x="691.40" y="234.40" width="17.30" height="8.40" stroke-width="0.8"/><rect x="692.00" y="244.00" width="14.70" height="9.50" stroke-width="1.1"/><line x1="694.00" y1="245.00" x2="694.00" y2="252.50" stroke-width="0.8"/><line x1="697.00" y1="245.00" x2="697.00" y2="252.50" stroke-width="0.8"/><line x1="700.00" y1="245.00" x2="700.00" y2="252.50" stroke-width="0.8"/><line x1="703.00" y1="245.00" x2="703.00" y2="252.50" stroke-width="0.8"/><line x1="705.00" y1="245.00" x2="705.00" y2="252.50" stroke-width="0.8"/><line x1="692.00" y1="247.50" x2="706.70" y2="247.50" stroke-width="0.8"/><line x1="692.00" y1="250.00" x2="706.70" y2="250.00" stroke-width="0.8"/><line x1="700.70" y1="214.00" x2="774.80" y2="214.00" stroke-width="0.9"/><line x1="700.70" y1="218.70" x2="774.80" y2="218.70" stroke-width="0.9"/><circle cx="703.00" cy="216.30" r="2.00" stroke="#222" stroke-width="1.6" fill="#fff"/><circle cx="714.60" cy="216.30" r="2.00" stroke="#222" stroke-width="1.6" fill="#fff"/><circle cx="726.20" cy="216.30" r="2.00" stroke="#222" stroke-width="1.6" fill="#fff"/><circle cx="737.80" cy="216.30" r="2.00" stroke="#222" stroke-width="1.6" fill="#fff"/><circle cx="749.40" cy="216.30" r="2.00" stroke="#222" stroke-width="1.6" fill="#fff"/><circle cx="761.00" cy="216.30" r="2.00" stroke="#222" stroke-width="1.6" fill="#fff"/><circle cx="772.60" cy="216.30" r="2.00" stroke="#222" stroke-width="1.6" fill="#fff"/><rect x="766.80" y="220.70" width="8.00" height="13.30" stroke-width="0.8"/><line x1="767.00" y1="222.00" x2="772.00" y2="234.00" stroke-width="0.7"/><rect x="775.50" y="200.70" width="13.30" height="33.30" stroke-width="1.0"/><rect x="781.50" y="193.40" width="2.00" height="7.30" stroke-width="1.0"/><circle cx="782.20" cy="210.00" r="2.80" stroke-width="1.1"/><circle cx="782.20" cy="216.00" r="2.80" stroke-width="1.1"/><rect x="778.00" y="205.00" width="8.50" height="8.00" stroke-width="0.8"/><line x1="775.50" y1="220.50" x2="788.80" y2="220.50" stroke-width="0.8"/><path d="M792,225.4 L1007.5,225.4 L1007.5,230.6 L792,230.6 Q790.3,230.6 790.3,228 Q790.3,225.4 792,225.4 Z" stroke="#777" stroke-width="0.9"/><rect x="795.30" y="237.30" width="236.40" height="4.00" stroke="#777" stroke-width="0.9"/><line x1="795.30" y1="239.20" x2="1031.70" y2="239.20" stroke="#999" stroke-width="0.5"/><polyline points="829.30,248.50 935.40,248.50 935.40,241.30" stroke="#777" stroke-width="0.8"/><polyline points="1042.10,234.40 1042.10,241.50 1031.70,241.50" stroke-width="0.7"/><rect x="817.40" y="241.30" width="11.90" height="26.20" stroke="#777" stroke-width="0.8"/><rect x="820.40" y="245.00" width="5.90" height="20.00" stroke="#888" stroke-width="0.8" fill="#e0e0e0"/><circle cx="823.35" cy="246.00" r="1.20" stroke-width="0.7"/><circle cx="823.35" cy="264.00" r="1.20" stroke-width="0.7"/><rect x="815.40" y="241.30" width="15.90" height="2.20" stroke-width="0.7"/><rect x="937.40" y="241.30" width="10.20" height="26.20" stroke="#777" stroke-width="0.8"/><rect x="940.40" y="245.00" width="4.20" height="20.00" stroke="#888" stroke-width="0.8" fill="#e0e0e0"/><circle cx="942.50" cy="246.00" r="1.20" stroke-width="0.7"/><circle cx="942.50" cy="264.00" r="1.20" stroke-width="0.7"/><rect x="935.40" y="241.30" width="14.20" height="2.20" stroke-width="0.7"/><path d="M798.2,230.6 L806.2,230.6 L804.7,236 L799.7,236 Z" stroke-width="0.9"/><line x1="802.20" y1="231.00" x2="802.20" y2="236.00" stroke-width="0.6"/><path d="M866.3,230.6 L874.3,230.6 L872.8,236 L867.8,236 Z" stroke-width="0.9"/><line x1="870.30" y1="231.00" x2="870.30" y2="236.00" stroke-width="0.6"/><path d="M878.8,230.6 L886.8,230.6 L885.3,236 L880.3,236 Z" stroke-width="0.9"/><line x1="882.80" y1="231.00" x2="882.80" y2="236.00" stroke-width="0.6"/><path d="M962,230.6 L970,230.6 L968.5,236 L963.5,236 Z" stroke-width="0.9"/><line x1="966.00" y1="231.00" x2="966.00" y2="236.00" stroke-width="0.6"/><rect x="820.70" y="215.50" width="8.60" height="9.90" stroke-width="1.0"/><line x1="820.70" y1="220.00" x2="829.30" y2="220.00" stroke-width="0.8"/><line x1="825.00" y1="215.50" x2="825.00" y2="225.00" stroke-width="0.8"/><rect x="974.20" y="215.40" width="13.80" height="10.00" stroke-width="1.0"/><line x1="978.00" y1="215.40" x2="978.00" y2="225.40" stroke-width="0.9"/><line x1="983.00" y1="215.40" x2="983.00" y2="225.40" stroke-width="0.9"/><path d="M988,218 L993,223 L997.3,223 L997.3,225.4" stroke-width="0.8"/><line x1="974.00" y1="224.50" x2="997.30" y2="224.50" stroke="#333" stroke-width="1.5"/><line x1="1005.00" y1="236.00" x2="1009.00" y2="236.00" stroke-width="0.6"/><path d="M1008,233 l2,3 l3,-1" stroke-width="0.6"/><polyline points="123.50,486.20 116.70,486.20 116.70,469.60 16.60,469.60 16.60,543.50 116.70,543.50 116.70,527.30 123.50,527.30" stroke-width="1.0"/><line x1="18.30" y1="471.00" x2="18.30" y2="542.00" stroke-width="0.6"/><line x1="18.00" y1="471.00" x2="116.00" y2="471.00" stroke-width="0.6"/><line x1="27.40" y1="469.60" x2="27.40" y2="491.50" stroke-width="0.7"/><line x1="27.40" y1="522.50" x2="27.40" y2="543.50" stroke-width="0.7"/><line x1="36.40" y1="469.60" x2="36.40" y2="491.50" stroke-width="0.7"/><line x1="36.40" y1="522.50" x2="36.40" y2="543.50" stroke-width="0.7"/><line x1="37.90" y1="469.60" x2="37.90" y2="491.50" stroke-width="0.7"/><line x1="37.90" y1="522.50" x2="37.90" y2="543.50" stroke-width="0.7"/><line x1="46.60" y1="469.60" x2="46.60" y2="491.50" stroke-width="0.7"/><line x1="46.60" y1="522.50" x2="46.60" y2="543.50" stroke-width="0.7"/><line x1="16.60" y1="491.50" x2="123.50" y2="491.50" stroke-width="0.7"/><line x1="16.60" y1="498.40" x2="123.50" y2="498.40" stroke-width="0.7"/><line x1="16.60" y1="515.50" x2="123.50" y2="515.50" stroke-width="0.7"/><line x1="16.60" y1="522.50" x2="123.50" y2="522.50" stroke-width="0.7"/><line x1="9.30" y1="506.50" x2="1053.00" y2="506.50" stroke="#888" stroke-width="0.6"/><text x="29.80" y="480.20" textLength="14.40" lengthAdjust="spacingAndGlyphs" font-size="7.4">Step</text><text x="23.20" y="535.40" textLength="14.20" lengthAdjust="spacingAndGlyphs" font-size="7.4">Step</text><line x1="39.40" y1="492.50" x2="140.00" y2="492.50" stroke-width="0.6"/><line x1="39.40" y1="498.50" x2="140.00" y2="498.50" stroke-width="0.6"/><rect x="39.40" y="493.00" width="10.20" height="5.00" stroke-width="0.9" fill="#c8c8c8"/><line x1="40.00" y1="497.80" x2="41.50" y2="493.20" stroke="#555" stroke-width="0.6"/><line x1="42.00" y1="497.80" x2="43.50" y2="493.20" stroke="#555" stroke-width="0.6"/><line x1="44.00" y1="497.80" x2="45.50" y2="493.20" stroke="#555" stroke-width="0.6"/><line x1="46.00" y1="497.80" x2="47.50" y2="493.20" stroke="#555" stroke-width="0.6"/><line x1="48.00" y1="497.80" x2="49.50" y2="493.20" stroke="#555" stroke-width="0.6"/><rect x="58.00" y="493.00" width="10.50" height="5.00" stroke-width="0.9" fill="#c8c8c8"/><line x1="59.00" y1="497.80" x2="60.50" y2="493.20" stroke="#555" stroke-width="0.6"/><line x1="61.00" y1="497.80" x2="62.50" y2="493.20" stroke="#555" stroke-width="0.6"/><line x1="63.00" y1="497.80" x2="64.50" y2="493.20" stroke="#555" stroke-width="0.6"/><line x1="65.00" y1="497.80" x2="66.50" y2="493.20" stroke="#555" stroke-width="0.6"/><line x1="67.00" y1="497.80" x2="68.50" y2="493.20" stroke="#555" stroke-width="0.6"/><rect x="97.00" y="493.00" width="10.00" height="5.00" stroke-width="0.9" fill="#c8c8c8"/><line x1="98.00" y1="497.80" x2="99.50" y2="493.20" stroke="#555" stroke-width="0.6"/><line x1="100.00" y1="497.80" x2="101.50" y2="493.20" stroke="#555" stroke-width="0.6"/><line x1="102.00" y1="497.80" x2="103.50" y2="493.20" stroke="#555" stroke-width="0.6"/><line x1="104.00" y1="497.80" x2="105.50" y2="493.20" stroke="#555" stroke-width="0.6"/><line x1="106.00" y1="497.80" x2="107.50" y2="493.20" stroke="#555" stroke-width="0.6"/><rect x="116.60" y="493.00" width="9.40" height="5.00" stroke-width="0.9" fill="#c8c8c8"/><line x1="117.00" y1="497.80" x2="118.50" y2="493.20" stroke="#555" stroke-width="0.6"/><line x1="119.00" y1="497.80" x2="120.50" y2="493.20" stroke="#555" stroke-width="0.6"/><line x1="121.00" y1="497.80" x2="122.50" y2="493.20" stroke="#555" stroke-width="0.6"/><line x1="123.00" y1="497.80" x2="124.50" y2="493.20" stroke="#555" stroke-width="0.6"/><line x1="125.00" y1="497.80" x2="126.50" y2="493.20" stroke="#555" stroke-width="0.6"/><line x1="39.40" y1="515.00" x2="140.00" y2="515.00" stroke-width="0.6"/><line x1="39.40" y1="521.00" x2="140.00" y2="521.00" stroke-width="0.6"/><rect x="39.40" y="515.50" width="10.20" height="5.00" stroke-width="0.9" fill="#c8c8c8"/><line x1="40.00" y1="520.30" x2="41.50" y2="515.70" stroke="#555" stroke-width="0.6"/><line x1="42.00" y1="520.30" x2="43.50" y2="515.70" stroke="#555" stroke-width="0.6"/><line x1="44.00" y1="520.30" x2="45.50" y2="515.70" stroke="#555" stroke-width="0.6"/><line x1="46.00" y1="520.30" x2="47.50" y2="515.70" stroke="#555" stroke-width="0.6"/><line x1="48.00" y1="520.30" x2="49.50" y2="515.70" stroke="#555" stroke-width="0.6"/><rect x="58.00" y="515.50" width="10.50" height="5.00" stroke-width="0.9" fill="#c8c8c8"/><line x1="59.00" y1="520.30" x2="60.50" y2="515.70" stroke="#555" stroke-width="0.6"/><line x1="61.00" y1="520.30" x2="62.50" y2="515.70" stroke="#555" stroke-width="0.6"/><line x1="63.00" y1="520.30" x2="64.50" y2="515.70" stroke="#555" stroke-width="0.6"/><line x1="65.00" y1="520.30" x2="66.50" y2="515.70" stroke="#555" stroke-width="0.6"/><line x1="67.00" y1="520.30" x2="68.50" y2="515.70" stroke="#555" stroke-width="0.6"/><rect x="97.00" y="515.50" width="10.00" height="5.00" stroke-width="0.9" fill="#c8c8c8"/><line x1="98.00" y1="520.30" x2="99.50" y2="515.70" stroke="#555" stroke-width="0.6"/><line x1="100.00" y1="520.30" x2="101.50" y2="515.70" stroke="#555" stroke-width="0.6"/><line x1="102.00" y1="520.30" x2="103.50" y2="515.70" stroke="#555" stroke-width="0.6"/><line x1="104.00" y1="520.30" x2="105.50" y2="515.70" stroke="#555" stroke-width="0.6"/><line x1="106.00" y1="520.30" x2="107.50" y2="515.70" stroke="#555" stroke-width="0.6"/><rect x="116.60" y="515.50" width="9.40" height="5.00" stroke-width="0.9" fill="#c8c8c8"/><line x1="117.00" y1="520.30" x2="118.50" y2="515.70" stroke="#555" stroke-width="0.6"/><line x1="119.00" y1="520.30" x2="120.50" y2="515.70" stroke="#555" stroke-width="0.6"/><line x1="121.00" y1="520.30" x2="122.50" y2="515.70" stroke="#555" stroke-width="0.6"/><line x1="123.00" y1="520.30" x2="124.50" y2="515.70" stroke="#555" stroke-width="0.6"/><line x1="125.00" y1="520.30" x2="126.50" y2="515.70" stroke="#555" stroke-width="0.6"/><line x1="77.00" y1="494.50" x2="88.00" y2="494.50" stroke="#222" stroke-width="2.2"/><line x1="77.00" y1="519.00" x2="88.00" y2="519.00" stroke="#222" stroke-width="2.2"/><rect x="71.5" y="479" width="22.1" height="14.5" rx="2" stroke-width="1.2" stroke="#222"/><line x1="76.50" y1="479.50" x2="76.50" y2="493.00" stroke="#444" stroke-width="0.8"/><line x1="79.50" y1="479.50" x2="79.50" y2="493.00" stroke="#444" stroke-width="0.8"/><line x1="83.00" y1="479.50" x2="83.00" y2="493.00" stroke="#444" stroke-width="0.8"/><line x1="85.00" y1="479.50" x2="85.00" y2="493.00" stroke="#444" stroke-width="0.8"/><line x1="89.00" y1="479.50" x2="89.00" y2="493.00" stroke="#444" stroke-width="0.8"/><line x1="71.50" y1="486.25" x2="93.60" y2="486.25" stroke="#444" stroke-width="0.8"/><line x1="68.00" y1="493.50" x2="97.00" y2="493.50" stroke-width="0.8"/><rect x="71.5" y="520" width="22.1" height="14.6" rx="2" stroke-width="1.2" stroke="#222"/><line x1="76.50" y1="520.50" x2="76.50" y2="534.10" stroke="#444" stroke-width="0.8"/><line x1="79.50" y1="520.50" x2="79.50" y2="534.10" stroke="#444" stroke-width="0.8"/><line x1="83.00" y1="520.50" x2="83.00" y2="534.10" stroke="#444" stroke-width="0.8"/><line x1="85.00" y1="520.50" x2="85.00" y2="534.10" stroke="#444" stroke-width="0.8"/><line x1="89.00" y1="520.50" x2="89.00" y2="534.10" stroke="#444" stroke-width="0.8"/><line x1="71.50" y1="527.30" x2="93.60" y2="527.30" stroke="#444" stroke-width="0.8"/><line x1="68.00" y1="520.00" x2="97.00" y2="520.00" stroke-width="0.8"/><polyline points="116.60,498.50 72.50,498.50 72.50,517.00 116.60,517.00" stroke-width="0.9"/><line x1="116.60" y1="498.50" x2="116.60" y2="517.00" stroke-width="0.6"/><polyline points="83.00,500.00 74.00,500.00 74.00,515.50 83.00,515.50" stroke="#222" stroke-width="1.4"/><rect x="76.50" y="504.50" width="5.00" height="4.50" stroke-width="0.8"/><rect x="83.50" y="499.50" width="10.10" height="5.50" stroke-width="1.0"/><rect x="83.50" y="510.50" width="10.10" height="5.50" stroke-width="1.0"/><rect x="104.60" y="499.50" width="10.40" height="5.50" stroke-width="1.0"/><rect x="104.60" y="510.50" width="10.40" height="5.50" stroke-width="1.0"/><line x1="83.00" y1="504.50" x2="116.00" y2="504.50" stroke-width="0.6"/><line x1="83.00" y1="509.60" x2="116.00" y2="509.60" stroke-width="0.6"/><line x1="96.00" y1="499.00" x2="96.00" y2="516.00" stroke-width="0.6"/><line x1="101.00" y1="499.00" x2="101.00" y2="516.00" stroke-width="0.6"/><rect x="140.80" y="409.50" width="63.60" height="194.30" stroke-width="1.0"/><polyline points="148.50,482.00 148.50,427.90 191.80,427.90 191.80,482.00" stroke-width="0.9"/><polyline points="151.70,482.00 151.70,430.60 189.10,430.60 189.10,482.00" stroke-width="0.8"/><rect x="167.20" y="421.50" width="7.00" height="8.50" stroke-width="1.0"/><rect x="168.00" y="418.30" width="4.50" height="3.20" stroke-width="0.8"/><line x1="170.70" y1="418.00" x2="170.70" y2="437.00" stroke-width="0.6"/><rect x="165.60" y="430.00" width="10.20" height="7.00" stroke-width="0.9"/><line x1="165.60" y1="433.50" x2="175.80" y2="433.50" stroke-width="0.7"/><rect x="162.40" y="437.60" width="15.00" height="13.30" stroke-width="0.8"/><rect x="164" y="438.00" width="12.3" height="11.8" rx="2.5" stroke-width="1.3" stroke="#222"/><line x1="166.80" y1="440.00" x2="166.80" y2="448.00" stroke="#333" stroke-width="0.9"/><line x1="169.40" y1="440.00" x2="169.40" y2="448.00" stroke="#333" stroke-width="0.9"/><line x1="172.00" y1="440.00" x2="172.00" y2="448.00" stroke="#333" stroke-width="0.9"/><line x1="174.50" y1="440.00" x2="174.50" y2="448.00" stroke="#333" stroke-width="0.9"/><line x1="164.50" y1="444.00" x2="176.00" y2="444.00" stroke-width="0.7"/><path d="M163.5,454 Q165,462 170,465 Q175,462 177,454 M166,454 L167,461 M174,454 L173,461 M170,453 L170,466 M172,459 L179,457 M168,464 l4,-3" stroke="#222" stroke-width="1.5"/><rect x="150.70" y="437.60" width="4.30" height="44.20" stroke-width="0.9" fill="#e6e6e6"/><rect x="185.40" y="437.60" width="4.20" height="44.20" stroke-width="0.9" fill="#e6e6e6"/><line x1="150.70" y1="439.00" x2="155.00" y2="440.50" stroke="#444" stroke-width="0.8"/><line x1="185.40" y1="439.00" x2="189.60" y2="440.50" stroke="#444" stroke-width="0.8"/><line x1="150.70" y1="442.90" x2="155.00" y2="444.40" stroke="#444" stroke-width="0.8"/><line x1="185.40" y1="442.90" x2="189.60" y2="444.40" stroke="#444" stroke-width="0.8"/><line x1="150.70" y1="446.80" x2="155.00" y2="448.30" stroke="#444" stroke-width="0.8"/><line x1="185.40" y1="446.80" x2="189.60" y2="448.30" stroke="#444" stroke-width="0.8"/><line x1="150.70" y1="450.70" x2="155.00" y2="452.20" stroke="#444" stroke-width="0.8"/><line x1="185.40" y1="450.70" x2="189.60" y2="452.20" stroke="#444" stroke-width="0.8"/><line x1="150.70" y1="454.60" x2="155.00" y2="456.10" stroke="#444" stroke-width="0.8"/><line x1="185.40" y1="454.60" x2="189.60" y2="456.10" stroke="#444" stroke-width="0.8"/><line x1="150.70" y1="458.50" x2="155.00" y2="460.00" stroke="#444" stroke-width="0.8"/><line x1="185.40" y1="458.50" x2="189.60" y2="460.00" stroke="#444" stroke-width="0.8"/><line x1="150.70" y1="462.40" x2="155.00" y2="463.90" stroke="#444" stroke-width="0.8"/><line x1="185.40" y1="462.40" x2="189.60" y2="463.90" stroke="#444" stroke-width="0.8"/><line x1="150.70" y1="466.30" x2="155.00" y2="467.80" stroke="#444" stroke-width="0.8"/><line x1="185.40" y1="466.30" x2="189.60" y2="467.80" stroke="#444" stroke-width="0.8"/><line x1="150.70" y1="470.20" x2="155.00" y2="471.70" stroke="#444" stroke-width="0.8"/><line x1="185.40" y1="470.20" x2="189.60" y2="471.70" stroke="#444" stroke-width="0.8"/><line x1="150.70" y1="474.10" x2="155.00" y2="475.60" stroke="#444" stroke-width="0.8"/><line x1="185.40" y1="474.10" x2="189.60" y2="475.60" stroke="#444" stroke-width="0.8"/><line x1="150.70" y1="478.00" x2="155.00" y2="479.50" stroke="#444" stroke-width="0.8"/><line x1="185.40" y1="478.00" x2="189.60" y2="479.50" stroke="#444" stroke-width="0.8"/><rect x="191.20" y="433.30" width="7.00" height="46.40" stroke-width="0.9"/><line x1="191.20" y1="435.00" x2="198.20" y2="435.00" stroke-width="0.6"/><line x1="191.20" y1="438.90" x2="198.20" y2="438.90" stroke-width="0.6"/><line x1="191.20" y1="442.80" x2="198.20" y2="442.80" stroke-width="0.6"/><line x1="191.20" y1="446.70" x2="198.20" y2="446.70" stroke-width="0.6"/><line x1="191.20" y1="450.60" x2="198.20" y2="450.60" stroke-width="0.6"/><line x1="191.20" y1="454.50" x2="198.20" y2="454.50" stroke-width="0.6"/><line x1="191.20" y1="458.40" x2="198.20" y2="458.40" stroke-width="0.6"/><line x1="191.20" y1="462.30" x2="198.20" y2="462.30" stroke-width="0.6"/><line x1="191.20" y1="466.20" x2="198.20" y2="466.20" stroke-width="0.6"/><line x1="191.20" y1="470.10" x2="198.20" y2="470.10" stroke-width="0.6"/><line x1="191.20" y1="474.00" x2="198.20" y2="474.00" stroke-width="0.6"/><line x1="191.20" y1="477.90" x2="198.20" y2="477.90" stroke-width="0.6"/><rect x="198.20" y="464.20" width="5.30" height="4.80" stroke-width="0.7"/><polyline points="152.00,461.00 160.00,467.40 181.00,467.40 189.00,461.00" stroke-width="0.8"/><rect x="152.30" y="469.00" width="34.70" height="10.70" stroke-width="0.9"/><rect x="156.00" y="471.00" width="7.00" height="6.50" stroke-width="0.8"/><rect x="178.00" y="471.00" width="7.00" height="6.50" stroke-width="0.8"/><rect x="163.00" y="470.00" width="14.90" height="9.70" stroke-width="1.0" fill="#ddd"/><circle cx="166.50" cy="475.00" r="1.60" stroke="#333" stroke-width="0.9"/><circle cx="170.50" cy="475.00" r="1.60" stroke="#333" stroke-width="0.9"/><circle cx="174.50" cy="475.00" r="1.60" stroke="#333" stroke-width="0.9"/><rect x="123.20" y="476.00" width="10.30" height="10.70" stroke-width="1.0"/><rect x="218.70" y="476.00" width="10.30" height="10.70" stroke-width="1.0"/><line x1="146.00" y1="427.90" x2="194.00" y2="427.90" stroke-width="0.6"/><polyline points="148.50,531.00 148.50,585.10 191.80,585.10 191.80,531.00" stroke-width="0.9"/><polyline points="151.70,531.00 151.70,582.40 189.10,582.40 189.10,531.00" stroke-width="0.8"/><rect x="167.20" y="583.00" width="7.00" height="8.50" stroke-width="1.0"/><rect x="168.00" y="591.50" width="4.50" height="3.20" stroke-width="0.8"/><line x1="170.70" y1="595.00" x2="170.70" y2="576.00" stroke-width="0.6"/><rect x="165.60" y="576.00" width="10.20" height="7.00" stroke-width="0.9"/><line x1="165.60" y1="579.50" x2="175.80" y2="579.50" stroke-width="0.7"/><rect x="162.40" y="562.10" width="15.00" height="13.30" stroke-width="0.8"/><rect x="164" y="563.20" width="12.3" height="11.8" rx="2.5" stroke-width="1.3" stroke="#222"/><line x1="166.80" y1="573.00" x2="166.80" y2="565.00" stroke="#333" stroke-width="0.9"/><line x1="169.40" y1="573.00" x2="169.40" y2="565.00" stroke="#333" stroke-width="0.9"/><line x1="172.00" y1="573.00" x2="172.00" y2="565.00" stroke="#333" stroke-width="0.9"/><line x1="174.50" y1="573.00" x2="174.50" y2="565.00" stroke="#333" stroke-width="0.9"/><line x1="164.50" y1="569.00" x2="176.00" y2="569.00" stroke-width="0.7"/><path d="M163.5,559.0 Q165,551.0 170,548.0 Q175,551.0 177,559.0 M166,559.0 L167,552.0 M174,559.0 L173,552.0 M170,560.0 L170,547.0 M172,554.0 L179,556.0 M168,549.0 l4,-3" stroke="#222" stroke-width="1.5"/><rect x="150.70" y="531.20" width="4.30" height="44.20" stroke-width="0.9" fill="#e6e6e6"/><rect x="185.40" y="531.20" width="4.20" height="44.20" stroke-width="0.9" fill="#e6e6e6"/><line x1="150.70" y1="574.00" x2="155.00" y2="572.50" stroke="#444" stroke-width="0.8"/><line x1="185.40" y1="574.00" x2="189.60" y2="572.50" stroke="#444" stroke-width="0.8"/><line x1="150.70" y1="570.10" x2="155.00" y2="568.60" stroke="#444" stroke-width="0.8"/><line x1="185.40" y1="570.10" x2="189.60" y2="568.60" stroke="#444" stroke-width="0.8"/><line x1="150.70" y1="566.20" x2="155.00" y2="564.70" stroke="#444" stroke-width="0.8"/><line x1="185.40" y1="566.20" x2="189.60" y2="564.70" stroke="#444" stroke-width="0.8"/><line x1="150.70" y1="562.30" x2="155.00" y2="560.80" stroke="#444" stroke-width="0.8"/><line x1="185.40" y1="562.30" x2="189.60" y2="560.80" stroke="#444" stroke-width="0.8"/><line x1="150.70" y1="558.40" x2="155.00" y2="556.90" stroke="#444" stroke-width="0.8"/><line x1="185.40" y1="558.40" x2="189.60" y2="556.90" stroke="#444" stroke-width="0.8"/><line x1="150.70" y1="554.50" x2="155.00" y2="553.00" stroke="#444" stroke-width="0.8"/><line x1="185.40" y1="554.50" x2="189.60" y2="553.00" stroke="#444" stroke-width="0.8"/><line x1="150.70" y1="550.60" x2="155.00" y2="549.10" stroke="#444" stroke-width="0.8"/><line x1="185.40" y1="550.60" x2="189.60" y2="549.10" stroke="#444" stroke-width="0.8"/><line x1="150.70" y1="546.70" x2="155.00" y2="545.20" stroke="#444" stroke-width="0.8"/><line x1="185.40" y1="546.70" x2="189.60" y2="545.20" stroke="#444" stroke-width="0.8"/><line x1="150.70" y1="542.80" x2="155.00" y2="541.30" stroke="#444" stroke-width="0.8"/><line x1="185.40" y1="542.80" x2="189.60" y2="541.30" stroke="#444" stroke-width="0.8"/><line x1="150.70" y1="538.90" x2="155.00" y2="537.40" stroke="#444" stroke-width="0.8"/><line x1="185.40" y1="538.90" x2="189.60" y2="537.40" stroke="#444" stroke-width="0.8"/><line x1="150.70" y1="535.00" x2="155.00" y2="533.50" stroke="#444" stroke-width="0.8"/><line x1="185.40" y1="535.00" x2="189.60" y2="533.50" stroke="#444" stroke-width="0.8"/><rect x="191.20" y="533.30" width="7.00" height="46.40" stroke-width="0.9"/><line x1="191.20" y1="578.00" x2="198.20" y2="578.00" stroke-width="0.6"/><line x1="191.20" y1="574.10" x2="198.20" y2="574.10" stroke-width="0.6"/><line x1="191.20" y1="570.20" x2="198.20" y2="570.20" stroke-width="0.6"/><line x1="191.20" y1="566.30" x2="198.20" y2="566.30" stroke-width="0.6"/><line x1="191.20" y1="562.40" x2="198.20" y2="562.40" stroke-width="0.6"/><line x1="191.20" y1="558.50" x2="198.20" y2="558.50" stroke-width="0.6"/><line x1="191.20" y1="554.60" x2="198.20" y2="554.60" stroke-width="0.6"/><line x1="191.20" y1="550.70" x2="198.20" y2="550.70" stroke-width="0.6"/><line x1="191.20" y1="546.80" x2="198.20" y2="546.80" stroke-width="0.6"/><line x1="191.20" y1="542.90" x2="198.20" y2="542.90" stroke-width="0.6"/><line x1="191.20" y1="539.00" x2="198.20" y2="539.00" stroke-width="0.6"/><line x1="191.20" y1="535.10" x2="198.20" y2="535.10" stroke-width="0.6"/><rect x="198.20" y="544.00" width="5.30" height="4.80" stroke-width="0.7"/><polyline points="152.00,552.00 160.00,545.60 181.00,545.60 189.00,552.00" stroke-width="0.8"/><rect x="152.30" y="533.30" width="34.70" height="10.70" stroke-width="0.9"/><rect x="156.00" y="535.50" width="7.00" height="6.50" stroke-width="0.8"/><rect x="178.00" y="535.50" width="7.00" height="6.50" stroke-width="0.8"/><rect x="163.00" y="533.30" width="14.90" height="9.70" stroke-width="1.0" fill="#ddd"/><circle cx="166.50" cy="538.00" r="1.60" stroke="#333" stroke-width="0.9"/><circle cx="170.50" cy="538.00" r="1.60" stroke="#333" stroke-width="0.9"/><circle cx="174.50" cy="538.00" r="1.60" stroke="#333" stroke-width="0.9"/><rect x="123.20" y="526.30" width="10.30" height="10.70" stroke-width="1.0"/><rect x="218.70" y="526.30" width="10.30" height="10.70" stroke-width="1.0"/><line x1="146.00" y1="585.10" x2="194.00" y2="585.10" stroke-width="0.6"/><line x1="124.10" y1="482.60" x2="124.10" y2="530.40" stroke-width="0.6"/><line x1="132.50" y1="482.60" x2="132.50" y2="530.40" stroke-width="0.6"/><path d="M123.1,482.6 L123.1,477.5 Q123.1,475.8 125.1,475.8 L131.5,475.8 Q133.5,475.8 133.5,477.5 L133.5,482.6 Z" stroke-width="1.0"/><path d="M123.1,530.4 L123.1,535.5 Q123.1,537.2 125.1,537.2 L131.5,537.2 Q133.5,537.2 133.5,535.5 L133.5,530.4 Z" stroke-width="1.0"/><line x1="126.80" y1="476.00" x2="126.80" y2="537.00" stroke="#333" stroke-width="1.0"/><line x1="129.20" y1="476.00" x2="129.20" y2="537.00" stroke="#333" stroke-width="1.0"/><line x1="219.20" y1="482.60" x2="219.20" y2="530.40" stroke-width="0.6"/><line x1="228.30" y1="482.60" x2="228.30" y2="530.40" stroke-width="0.6"/><path d="M218.2,482.6 L218.2,477.5 Q218.2,475.8 220.2,475.8 L227.3,475.8 Q229.3,475.8 229.3,477.5 L229.3,482.6 Z" stroke-width="1.0"/><path d="M218.2,530.4 L218.2,535.5 Q218.2,537.2 220.2,537.2 L227.3,537.2 Q229.3,537.2 229.3,535.5 L229.3,530.4 Z" stroke-width="1.0"/><line x1="221.90" y1="476.00" x2="221.90" y2="537.00" stroke="#333" stroke-width="1.0"/><line x1="224.30" y1="476.00" x2="224.30" y2="537.00" stroke="#333" stroke-width="1.0"/><line x1="123.00" y1="483.80" x2="229.30" y2="483.80" stroke-width="0.7"/><line x1="123.00" y1="488.00" x2="229.30" y2="488.00" stroke-width="0.7"/><line x1="123.00" y1="496.70" x2="229.30" y2="496.70" stroke-width="0.7"/><line x1="123.00" y1="501.00" x2="229.30" y2="501.00" stroke-width="0.7"/><line x1="123.00" y1="512.00" x2="229.30" y2="512.00" stroke-width="0.7"/><line x1="123.00" y1="517.00" x2="229.30" y2="517.00" stroke-width="0.7"/><line x1="123.00" y1="525.00" x2="229.30" y2="525.00" stroke-width="0.7"/><line x1="123.00" y1="529.20" x2="229.30" y2="529.20" stroke-width="0.7"/><line x1="131.00" y1="493.20" x2="199.80" y2="493.20" stroke="#222" stroke-width="1.3"/><line x1="131.00" y1="494.90" x2="199.80" y2="494.90" stroke="#333" stroke-width="0.9"/><line x1="131.00" y1="518.10" x2="199.80" y2="518.10" stroke="#333" stroke-width="0.9"/><line x1="131.00" y1="519.80" x2="199.80" y2="519.80" stroke="#222" stroke-width="1.3"/><line x1="133.50" y1="492.40" x2="228.00" y2="492.40" stroke-width="0.7"/><line x1="133.50" y1="521.30" x2="228.00" y2="521.30" stroke-width="0.7"/><rect x="144.60" y="489.30" width="31.30" height="2.50" stroke-width="0.8" fill="#bbb"/><rect x="144.60" y="521.20" width="31.30" height="2.50" stroke-width="0.8" fill="#bbb"/><rect x="118.00" y="493.00" width="26.60" height="4.00" stroke-width="0.6" fill="#aaa"/><rect x="118.00" y="516.00" width="26.60" height="4.00" stroke-width="0.6" fill="#aaa"/><line x1="141.50" y1="496.70" x2="141.50" y2="517.00" stroke-width="0.7"/><line x1="150.00" y1="496.70" x2="150.00" y2="517.00" stroke-width="0.7"/><line x1="156.80" y1="496.70" x2="156.80" y2="517.00" stroke-width="0.7"/><line x1="159.30" y1="496.70" x2="159.30" y2="517.00" stroke-width="0.7"/><line x1="177.70" y1="496.70" x2="177.70" y2="517.00" stroke-width="0.7"/><line x1="178.90" y1="496.70" x2="178.90" y2="517.00" stroke-width="0.7"/><line x1="191.20" y1="496.70" x2="191.20" y2="517.00" stroke-width="0.7"/><line x1="201.00" y1="496.70" x2="201.00" y2="517.00" stroke-width="0.7"/><line x1="203.50" y1="496.70" x2="203.50" y2="517.00" stroke-width="0.7"/><line x1="218.20" y1="496.70" x2="218.20" y2="517.00" stroke-width="0.7"/><rect x="134.00" y="502.00" width="13.00" height="9.00" stroke-width="0.8"/><path d="M139.6,503.5 l0,6 M141.5,503.5 l4,3 l-4,3 Z" stroke-width="0.8"/><rect x="160.00" y="498.00" width="8.00" height="6.00" stroke-width="0.8"/><line x1="162.00" y1="499.00" x2="162.00" y2="503.00" stroke-width="0.7"/><line x1="166.00" y1="499.00" x2="166.00" y2="503.00" stroke-width="0.7"/><line x1="162.00" y1="501.00" x2="166.00" y2="501.00" stroke-width="0.7"/><rect x="160.00" y="509.00" width="8.00" height="6.00" stroke-width="0.8"/><line x1="162.00" y1="510.00" x2="162.00" y2="514.00" stroke-width="0.7"/><line x1="166.00" y1="510.00" x2="166.00" y2="514.00" stroke-width="0.7"/><line x1="162.00" y1="512.00" x2="166.00" y2="512.00" stroke-width="0.7"/><rect x="168.50" y="498.00" width="8.50" height="6.00" stroke-width="0.8"/><line x1="170.50" y1="499.00" x2="170.50" y2="503.00" stroke-width="0.7"/><line x1="175.00" y1="499.00" x2="175.00" y2="503.00" stroke-width="0.7"/><line x1="170.50" y1="501.00" x2="175.00" y2="501.00" stroke-width="0.7"/><rect x="168.50" y="509.00" width="8.50" height="6.00" stroke-width="0.8"/><line x1="170.50" y1="510.00" x2="170.50" y2="514.00" stroke-width="0.7"/><line x1="175.00" y1="510.00" x2="175.00" y2="514.00" stroke-width="0.7"/><line x1="170.50" y1="512.00" x2="175.00" y2="512.00" stroke-width="0.7"/><rect x="161.00" y="504.00" width="6.00" height="5.00" stroke-width="0.9" fill="#ccc"/><rect x="180" y="500.5" width="11" height="12" rx="2" stroke-width="0.9"/><circle cx="185.50" cy="506.50" r="2.20" stroke-width="0.9"/><rect x="192.00" y="499.00" width="8.00" height="6.00" stroke-width="0.7"/><rect x="192.00" y="508.00" width="8.00" height="6.00" stroke-width="0.7"/><rect x="204.00" y="498.00" width="13.00" height="6.00" stroke-width="0.8"/><line x1="207.00" y1="499.00" x2="207.00" y2="503.00" stroke-width="0.7"/><line x1="214.00" y1="499.00" x2="214.00" y2="503.00" stroke-width="0.7"/><line x1="207.00" y1="501.00" x2="214.00" y2="501.00" stroke-width="0.7"/><rect x="204.00" y="509.00" width="13.00" height="6.00" stroke-width="0.8"/><line x1="207.00" y1="510.00" x2="207.00" y2="514.00" stroke-width="0.7"/><line x1="214.00" y1="510.00" x2="214.00" y2="514.00" stroke-width="0.7"/><line x1="207.00" y1="512.00" x2="214.00" y2="512.00" stroke-width="0.7"/><circle cx="210.50" cy="506.50" r="2.50" stroke-width="1.2"/><rect x="205.00" y="504.00" width="11.00" height="5.00" stroke-width="0.6"/><rect x="226.80" y="485.70" width="12.90" height="42.30" stroke-width="0.9"/><line x1="234.80" y1="485.70" x2="234.80" y2="528.00" stroke-width="0.7"/><rect x="239.70" y="496.70" width="3.10" height="19.70" stroke-width="0.8"/><path d="M242.8,506.5 L247.7,506.5 M244,503 l3,3.5 l-3,3.5 M246,503 l0,7" stroke-width="0.8"/><polyline points="295.50,406.10 295.50,372.60 628.00,372.60 628.00,394.20" stroke="#9a9a9a" stroke-width="1.5"/><polyline points="621.50,394.20 621.50,378.90 536.10,378.90 536.10,451.50" stroke="#9a9a9a" stroke-width="1.5"/><polyline points="301.30,406.10 301.30,378.90 327.00,378.90 327.00,455.80" stroke="#9a9a9a" stroke-width="1.5"/><line x1="295.50" y1="406.10" x2="301.30" y2="406.10" stroke="#9a9a9a" stroke-width="1.0"/><line x1="621.50" y1="394.20" x2="628.00" y2="394.20" stroke="#9a9a9a" stroke-width="1.0"/><polyline points="333.00,455.80 333.00,378.90 529.00,378.90 529.00,455.80" stroke="#9a9a9a" stroke-width="1.5"/><line x1="204.40" y1="455.80" x2="327.00" y2="455.80" stroke="#9a9a9a" stroke-width="1.5"/><line x1="333.00" y1="455.80" x2="529.00" y2="455.80" stroke="#9a9a9a" stroke-width="1.5"/><line x1="204.40" y1="459.80" x2="875.40" y2="459.80" stroke="#b0b0b0" stroke-width="1.2"/><line x1="204.40" y1="466.50" x2="860.30" y2="466.50" stroke="#9a9a9a" stroke-width="1.7"/><line x1="536.10" y1="451.50" x2="875.40" y2="451.50" stroke="#9a9a9a" stroke-width="1.5"/><line x1="536.10" y1="455.80" x2="860.30" y2="455.80" stroke="#b0b0b0" stroke-width="1.2"/><line x1="875.40" y1="451.50" x2="875.40" y2="487.40" stroke="#9a9a9a" stroke-width="1.5"/><line x1="860.30" y1="466.50" x2="860.30" y2="478.20" stroke="#9a9a9a" stroke-width="1.2"/><line x1="694.00" y1="478.20" x2="860.30" y2="478.20" stroke="#9a9a9a" stroke-width="1.2"/><rect x="857.00" y="466.50" width="5.50" height="7.50" stroke="#666" stroke-width="0.8"/><rect x="862.50" y="467.00" width="5.50" height="3.50" stroke="#666" stroke-width="0.7"/><line x1="277.10" y1="460.50" x2="277.10" y2="465.50" stroke="#555" stroke-width="0.9"/><line x1="280.10" y1="460.50" x2="280.10" y2="465.50" stroke="#555" stroke-width="0.9"/><line x1="277.10" y1="463.00" x2="280.10" y2="463.00" stroke="#888" stroke-width="0.5"/><line x1="323.90" y1="460.50" x2="323.90" y2="465.50" stroke="#555" stroke-width="0.9"/><line x1="326.90" y1="460.50" x2="326.90" y2="465.50" stroke="#555" stroke-width="0.9"/><line x1="323.90" y1="463.00" x2="326.90" y2="463.00" stroke="#888" stroke-width="0.5"/><line x1="336.00" y1="460.50" x2="336.00" y2="465.50" stroke="#555" stroke-width="0.9"/><line x1="339.00" y1="460.50" x2="339.00" y2="465.50" stroke="#555" stroke-width="0.9"/><line x1="336.00" y1="463.00" x2="339.00" y2="463.00" stroke="#888" stroke-width="0.5"/><line x1="381.10" y1="460.50" x2="381.10" y2="465.50" stroke="#555" stroke-width="0.9"/><line x1="384.10" y1="460.50" x2="384.10" y2="465.50" stroke="#555" stroke-width="0.9"/><line x1="381.10" y1="463.00" x2="384.10" y2="463.00" stroke="#888" stroke-width="0.5"/><line x1="454.50" y1="460.50" x2="454.50" y2="465.50" stroke="#555" stroke-width="0.9"/><line x1="457.50" y1="460.50" x2="457.50" y2="465.50" stroke="#555" stroke-width="0.9"/><line x1="454.50" y1="463.00" x2="457.50" y2="463.00" stroke="#888" stroke-width="0.5"/><line x1="526.20" y1="460.50" x2="526.20" y2="465.50" stroke="#555" stroke-width="0.9"/><line x1="529.20" y1="460.50" x2="529.20" y2="465.50" stroke="#555" stroke-width="0.9"/><line x1="526.20" y1="463.00" x2="529.20" y2="463.00" stroke="#888" stroke-width="0.5"/><line x1="571.80" y1="460.50" x2="571.80" y2="465.50" stroke="#555" stroke-width="0.9"/><line x1="574.80" y1="460.50" x2="574.80" y2="465.50" stroke="#555" stroke-width="0.9"/><line x1="571.80" y1="463.00" x2="574.80" y2="463.00" stroke="#888" stroke-width="0.5"/><line x1="657.10" y1="460.50" x2="657.10" y2="465.50" stroke="#555" stroke-width="0.9"/><line x1="660.10" y1="460.50" x2="660.10" y2="465.50" stroke="#555" stroke-width="0.9"/><line x1="657.10" y1="463.00" x2="660.10" y2="463.00" stroke="#888" stroke-width="0.5"/><line x1="691.50" y1="460.50" x2="691.50" y2="465.50" stroke="#555" stroke-width="0.9"/><line x1="694.50" y1="460.50" x2="694.50" y2="465.50" stroke="#555" stroke-width="0.9"/><line x1="691.50" y1="463.00" x2="694.50" y2="463.00" stroke="#888" stroke-width="0.5"/><line x1="327.00" y1="466.50" x2="327.00" y2="482.50" stroke="#9a9a9a" stroke-width="1.5"/><line x1="333.50" y1="466.50" x2="333.50" y2="482.50" stroke="#9a9a9a" stroke-width="1.5"/><line x1="327.00" y1="531.40" x2="327.00" y2="593.00" stroke="#9a9a9a" stroke-width="1.5"/><line x1="333.50" y1="531.40" x2="333.50" y2="593.00" stroke="#9a9a9a" stroke-width="1.5"/><line x1="338.00" y1="466.50" x2="338.00" y2="593.00" stroke="#9a9a9a" stroke-width="1.2"/><line x1="327.00" y1="468.50" x2="333.50" y2="468.50" stroke="#555" stroke-width="0.9"/><line x1="327.00" y1="471.50" x2="333.50" y2="471.50" stroke="#555" stroke-width="0.9"/><line x1="327.00" y1="534.50" x2="333.50" y2="534.50" stroke="#555" stroke-width="0.9"/><line x1="327.00" y1="537.50" x2="333.50" y2="537.50" stroke="#555" stroke-width="0.9"/><line x1="327.00" y1="588.50" x2="333.50" y2="588.50" stroke="#555" stroke-width="0.9"/><line x1="327.00" y1="591.50" x2="333.50" y2="591.50" stroke="#555" stroke-width="0.9"/><line x1="529.50" y1="466.50" x2="529.50" y2="482.50" stroke="#9a9a9a" stroke-width="1.5"/><line x1="536.00" y1="466.50" x2="536.00" y2="482.50" stroke="#9a9a9a" stroke-width="1.5"/><line x1="529.50" y1="531.40" x2="529.50" y2="593.00" stroke="#9a9a9a" stroke-width="1.5"/><line x1="536.00" y1="531.40" x2="536.00" y2="593.00" stroke="#9a9a9a" stroke-width="1.5"/><line x1="540.00" y1="466.50" x2="540.00" y2="593.00" stroke="#9a9a9a" stroke-width="1.2"/><line x1="529.50" y1="468.50" x2="536.00" y2="468.50" stroke="#555" stroke-width="0.9"/><line x1="529.50" y1="471.50" x2="536.00" y2="471.50" stroke="#555" stroke-width="0.9"/><line x1="529.50" y1="534.50" x2="536.00" y2="534.50" stroke="#555" stroke-width="0.9"/><line x1="529.50" y1="537.50" x2="536.00" y2="537.50" stroke="#555" stroke-width="0.9"/><line x1="529.50" y1="588.50" x2="536.00" y2="588.50" stroke="#555" stroke-width="0.9"/><line x1="529.50" y1="591.50" x2="536.00" y2="591.50" stroke="#555" stroke-width="0.9"/><line x1="202.70" y1="593.00" x2="696.20" y2="593.00" stroke="#9a9a9a" stroke-width="1.5"/><line x1="202.70" y1="599.20" x2="696.20" y2="599.20" stroke="#9a9a9a" stroke-width="1.5"/><line x1="140.80" y1="603.80" x2="696.20" y2="603.80" stroke="#9a9a9a" stroke-width="1.2"/><line x1="696.20" y1="451.50" x2="696.20" y2="603.80" stroke="#9a9a9a" stroke-width="1.2"/><line x1="202.20" y1="594.30" x2="202.20" y2="598.30" stroke="#555" stroke-width="0.9"/><line x1="205.20" y1="594.30" x2="205.20" y2="598.30" stroke="#555" stroke-width="0.9"/><line x1="202.20" y1="596.30" x2="205.20" y2="596.30" stroke="#888" stroke-width="0.5"/><line x1="276.70" y1="594.30" x2="276.70" y2="598.30" stroke="#555" stroke-width="0.9"/><line x1="279.70" y1="594.30" x2="279.70" y2="598.30" stroke="#555" stroke-width="0.9"/><line x1="276.70" y1="596.30" x2="279.70" y2="596.30" stroke="#888" stroke-width="0.5"/><line x1="335.80" y1="594.30" x2="335.80" y2="598.30" stroke="#555" stroke-width="0.9"/><line x1="338.80" y1="594.30" x2="338.80" y2="598.30" stroke="#555" stroke-width="0.9"/><line x1="335.80" y1="596.30" x2="338.80" y2="596.30" stroke="#888" stroke-width="0.5"/><line x1="381.30" y1="594.30" x2="381.30" y2="598.30" stroke="#555" stroke-width="0.9"/><line x1="384.30" y1="594.30" x2="384.30" y2="598.30" stroke="#555" stroke-width="0.9"/><line x1="381.30" y1="596.30" x2="384.30" y2="596.30" stroke="#888" stroke-width="0.5"/><line x1="454.50" y1="594.30" x2="454.50" y2="598.30" stroke="#555" stroke-width="0.9"/><line x1="457.50" y1="594.30" x2="457.50" y2="598.30" stroke="#555" stroke-width="0.9"/><line x1="454.50" y1="596.30" x2="457.50" y2="596.30" stroke="#888" stroke-width="0.5"/><line x1="527.20" y1="594.30" x2="527.20" y2="598.30" stroke="#555" stroke-width="0.9"/><line x1="530.20" y1="594.30" x2="530.20" y2="598.30" stroke="#555" stroke-width="0.9"/><line x1="527.20" y1="596.30" x2="530.20" y2="596.30" stroke="#888" stroke-width="0.5"/><line x1="564.00" y1="594.30" x2="564.00" y2="598.30" stroke="#555" stroke-width="0.9"/><line x1="567.00" y1="594.30" x2="567.00" y2="598.30" stroke="#555" stroke-width="0.9"/><line x1="564.00" y1="596.30" x2="567.00" y2="596.30" stroke="#888" stroke-width="0.5"/><polyline points="202.70,547.80 279.20,547.80 279.20,593.00" stroke="#9a9a9a" stroke-width="1.5"/><polyline points="202.70,554.50 272.50,554.50 272.50,593.00" stroke="#9a9a9a" stroke-width="1.5"/><line x1="202.70" y1="547.80" x2="202.70" y2="554.50" stroke="#9a9a9a" stroke-width="1.0"/><polyline points="202.70,559.00 269.50,559.00 269.50,593.00" stroke="#bbb" stroke-width="1.0"/><line x1="263.50" y1="549.00" x2="263.50" y2="553.50" stroke="#555" stroke-width="0.9"/><line x1="266.50" y1="549.00" x2="266.50" y2="553.50" stroke="#555" stroke-width="0.9"/><line x1="263.50" y1="551.25" x2="266.50" y2="551.25" stroke="#888" stroke-width="0.5"/><line x1="272.50" y1="555.50" x2="279.20" y2="555.50" stroke="#555" stroke-width="0.9"/><line x1="272.50" y1="558.50" x2="279.20" y2="558.50" stroke="#555" stroke-width="0.9"/><line x1="565.50" y1="540.00" x2="565.50" y2="593.00" stroke="#9a9a9a" stroke-width="1.5"/><line x1="573.20" y1="540.00" x2="573.20" y2="593.00" stroke="#9a9a9a" stroke-width="1.5"/><rect x="246.30" y="586.10" width="54.20" height="21.70"/><line x1="246.30" y1="586.10" x2="300.50" y2="607.80"/><line x1="246.30" y1="607.80" x2="300.50" y2="586.10"/><rect x="619.10" y="586.10" width="53.80" height="21.70"/><line x1="619.10" y1="586.10" x2="672.90" y2="607.80"/><line x1="619.10" y1="607.80" x2="672.90" y2="586.10"/><text x="239.50" y="622.00" textLength="56.50" lengthAdjust="spacingAndGlyphs" font-size="7.4">Operation Table 1</text><text x="616.20" y="622.00" textLength="56.70" lengthAdjust="spacingAndGlyphs" font-size="7.4">Operation Table 2</text><rect x="353.50" y="365.20" width="158.30" height="22.20" stroke-width="0.9"/><line x1="432.40" y1="365.20" x2="432.40" y2="387.40" stroke-width="0.9"/><line x1="353.50" y1="365.20" x2="432.40" y2="387.40" stroke-width="0.7"/><line x1="353.50" y1="387.40" x2="432.40" y2="365.20" stroke-width="0.7"/><line x1="432.40" y1="365.20" x2="511.80" y2="387.40" stroke-width="0.7"/><line x1="432.40" y1="387.40" x2="511.80" y2="365.20" stroke-width="0.7"/><circle cx="432.40" cy="376.00" r="1.00" fill="#222"/><line x1="429.00" y1="376.00" x2="436.00" y2="376.00" stroke-width="0.7"/><text x="405.00" y="358.70" textLength="54.40" lengthAdjust="spacingAndGlyphs" font-size="7.4">Electrical Cabinet</text><rect x="335.20" y="431.00" width="34.50" height="21.80"/><line x1="335.20" y1="431.00" x2="369.70" y2="452.80"/><line x1="335.20" y1="452.80" x2="369.70" y2="431.00"/><text x="338.30" y="419.00" textLength="55.30" lengthAdjust="spacingAndGlyphs" font-size="7.4">Hydraulic Station</text><path d="M544.6,362.2 L566.7,362.2 Q571.5,362.2 571.5,366.7 Q571.5,371.2 566.7,371.2 L544.6,371.2 Q539.5,371.2 539.5,366.7 Q539.5,362.2 544.6,362.2 Z" stroke="#444" stroke-width="0.9"/><line x1="544.60" y1="362.20" x2="544.60" y2="371.20" stroke="#444" stroke-width="0.8"/><line x1="566.70" y1="362.20" x2="566.70" y2="371.20" stroke="#444" stroke-width="0.8"/><text x="548" y="369.6" textLength="14.5" lengthAdjust="spacingAndGlyphs" font-size="9" style="font-family:'Liberation Serif',serif;font-weight:normal;stroke:none">Air</text><rect x="275.50" y="370.60" width="8.30" height="6.80" stroke-width="1.0"/><line x1="279.60" y1="370.60" x2="279.60" y2="377.40" stroke-width="0.7"/><path d="M275.5,372 Q279.6,368 283.8,372" stroke-width="0.9"/><rect x="271.80" y="377.40" width="15.80" height="28.60" stroke-width="1.0"/><rect x="274.00" y="380.00" width="11.50" height="10.00" stroke-width="0.8"/><rect x="276.00" y="391.00" width="8.00" height="13.00" stroke-width="0.9"/><line x1="273.00" y1="383.00" x2="273.00" y2="400.00" stroke="#444" stroke-width="1.2"/><line x1="286.50" y1="383.00" x2="286.50" y2="400.00" stroke="#444" stroke-width="1.2"/><rect x="254.40" y="407.60" width="33.20" height="14.40" stroke-width="1.0"/><rect x="256.00" y="410.00" width="30.00" height="10.00" stroke-width="0.8"/><line x1="262.00" y1="410.00" x2="262.00" y2="420.00" stroke-width="0.8"/><line x1="268.00" y1="410.00" x2="268.00" y2="420.00" stroke-width="0.8"/><line x1="275.00" y1="410.00" x2="275.00" y2="420.00" stroke-width="0.8"/><line x1="281.00" y1="410.00" x2="281.00" y2="420.00" stroke-width="0.8"/><line x1="256.00" y1="412.00" x2="286.00" y2="412.00" stroke-width="0.6"/><line x1="256.00" y1="418.00" x2="286.00" y2="418.00" stroke-width="0.6"/><rect x="283.80" y="406.00" width="3.80" height="26.50" stroke-width="0.8"/><rect x="259.00" y="424.00" width="3.00" height="8.00" stroke-width="1.0" fill="#444"/><rect x="263.50" y="422.00" width="3.00" height="10.00" stroke-width="1.0" fill="#444"/><rect x="267.50" y="425.00" width="2.50" height="7.00" stroke-width="1.0" fill="#444"/><path d="M236,433 L295,433 Q298,440 295,447.6 L236,447.6 Q233,440 236,433 Z" stroke-width="1.1"/><rect x="238.00" y="435.00" width="55.00" height="10.50" stroke-width="0.8"/><line x1="243.00" y1="435.00" x2="243.00" y2="445.50" stroke-width="0.7"/><line x1="252.00" y1="435.00" x2="252.00" y2="445.50" stroke-width="0.7"/><line x1="262.00" y1="435.00" x2="262.00" y2="445.50" stroke-width="0.7"/><line x1="268.00" y1="435.00" x2="268.00" y2="445.50" stroke-width="0.7"/><line x1="276.00" y1="435.00" x2="276.00" y2="445.50" stroke-width="0.7"/><line x1="283.00" y1="435.00" x2="283.00" y2="445.50" stroke-width="0.7"/><line x1="289.00" y1="435.00" x2="289.00" y2="445.50" stroke-width="0.7"/><line x1="238.00" y1="440.00" x2="293.00" y2="440.00" stroke-width="0.7"/><rect x="246.00" y="440.50" width="10.00" height="5.00" stroke-width="0.8"/><rect x="265.00" y="437.00" width="15.00" height="4.00" stroke-width="0.8"/><rect x="242.6" y="447.6" width="2.8" height="4.6" rx="1.1" stroke-width="0.9" stroke="#333"/><rect x="258.1" y="447.6" width="2.8" height="4.6" rx="1.1" stroke-width="0.9" stroke="#333"/><rect x="261.6" y="447.6" width="2.8" height="4.6" rx="1.1" stroke-width="0.9" stroke="#333"/><rect x="265.1" y="447.6" width="2.8" height="4.6" rx="1.1" stroke-width="0.9" stroke="#333"/><rect x="268.6" y="447.6" width="2.8" height="4.6" rx="1.1" stroke-width="0.9" stroke="#333"/><rect x="272.1" y="447.6" width="2.8" height="4.6" rx="1.1" stroke-width="0.9" stroke="#333"/><rect x="275.6" y="447.6" width="2.8" height="4.6" rx="1.1" stroke-width="0.9" stroke="#333"/><rect x="279.6" y="447.6" width="2.8" height="4.6" rx="1.1" stroke-width="0.9" stroke="#333"/><rect x="636.40" y="357.10" width="7.70" height="11.60" stroke-width="1.0"/><rect x="629.60" y="368.70" width="13.60" height="26.30" stroke-width="1.0"/><line x1="629.60" y1="370.50" x2="645.80" y2="370.50" stroke="#444" stroke-width="0.7"/><line x1="629.60" y1="372.50" x2="645.80" y2="372.50" stroke="#444" stroke-width="0.7"/><line x1="629.60" y1="374.50" x2="645.80" y2="374.50" stroke="#444" stroke-width="0.7"/><line x1="629.60" y1="377.00" x2="645.80" y2="377.00" stroke="#444" stroke-width="0.7"/><line x1="629.60" y1="379.50" x2="645.80" y2="379.50" stroke="#444" stroke-width="0.7"/><rect x="643.20" y="369.00" width="2.60" height="11.00" stroke-width="0.8"/><rect x="628.00" y="396.30" width="17.00" height="3.40" stroke-width="0.8" fill="#555"/><rect x="632.00" y="370.00" width="9.00" height="10.00" stroke-width="0.9"/><rect x="633.00" y="382.00" width="8.00" height="14.00" stroke-width="0.9"/><line x1="631.00" y1="372.00" x2="631.00" y2="396.00" stroke="#444" stroke-width="1.2"/><rect x="626.00" y="377.90" width="3.60" height="6.10" stroke-width="0.8"/><rect x="608.40" y="400.10" width="37.40" height="15.30" stroke-width="1.0"/><rect x="611.00" y="402.00" width="32.00" height="11.00" stroke-width="0.8"/><line x1="611.00" y1="410.00" x2="643.00" y2="410.00" stroke-width="0.6"/><line x1="613.00" y1="401.00" x2="613.00" y2="415.00" stroke-width="0.7"/><line x1="640.00" y1="401.00" x2="640.00" y2="415.00" stroke-width="0.7"/><line x1="628.00" y1="398.00" x2="641.00" y2="398.00" stroke="#444" stroke-width="1.8"/><rect x="619.00" y="415.40" width="4.00" height="11.60" stroke-width="0.8"/><rect x="620.00" y="421.00" width="2.00" height="3.00" stroke-width="0.8"/><line x1="613.00" y1="415.40" x2="613.00" y2="427.30" stroke-width="0.7"/><line x1="641.00" y1="415.40" x2="641.00" y2="427.30" stroke-width="0.7"/><path d="M599,427.3 L646,427.3 Q649,433.7 646,440.1 L599,440.1 Q596,433.7 599,427.3 Z" stroke-width="1.1"/><rect x="600.00" y="429.00" width="45.00" height="9.50" stroke-width="0.8"/><line x1="604.00" y1="429.00" x2="604.00" y2="438.50" stroke-width="0.7"/><line x1="612.00" y1="429.00" x2="612.00" y2="438.50" stroke-width="0.7"/><line x1="618.00" y1="429.00" x2="618.00" y2="438.50" stroke-width="0.7"/><line x1="628.00" y1="429.00" x2="628.00" y2="438.50" stroke-width="0.7"/><line x1="636.00" y1="429.00" x2="636.00" y2="438.50" stroke-width="0.7"/><line x1="641.00" y1="429.00" x2="641.00" y2="438.50" stroke-width="0.7"/><line x1="600.00" y1="434.00" x2="645.00" y2="434.00" stroke-width="0.6"/><rect x="615.00" y="431.00" width="11.00" height="5.00" stroke-width="0.9"/><circle cx="640.00" cy="436.00" r="0.80" fill="#333"/><rect x="603.6" y="440.1" width="2.8" height="6.5" rx="1.2" stroke-width="0.9" stroke="#333"/><rect x="607.1" y="440.1" width="2.8" height="6.5" rx="1.2" stroke-width="0.9" stroke="#333"/><rect x="610.6" y="440.1" width="2.8" height="6.5" rx="1.2" stroke-width="0.9" stroke="#333"/><rect x="617.1" y="440.1" width="2.8" height="6.5" rx="1.2" stroke-width="0.9" stroke="#333"/><rect x="620.6" y="440.1" width="2.8" height="6.5" rx="1.2" stroke-width="0.9" stroke="#333"/><rect x="626.6" y="440.1" width="2.8" height="6.5" rx="1.2" stroke-width="0.9" stroke="#333"/><rect x="630.1" y="440.1" width="2.8" height="6.5" rx="1.2" stroke-width="0.9" stroke="#333"/><rect x="633.6" y="440.1" width="2.8" height="6.5" rx="1.2" stroke-width="0.9" stroke="#333"/><rect x="637.1" y="440.1" width="2.8" height="6.5" rx="1.2" stroke-width="0.9" stroke="#333"/><rect x="617.80" y="440.10" width="3.70" height="6.80" stroke-width="0.9" fill="#888"/><rect x="250.10" y="478.20" width="46.20" height="8.10" stroke-width="0.9"/><polyline points="250.10,478.20 273.70,478.20 273.70,486.30 250.10,486.30" stroke="#222" stroke-width="1.2"/><circle cx="265.50" cy="482.50" r="2.60" stroke="#222" stroke-width="1.5"/><circle cx="265.50" cy="482.50" r="1.00" stroke-width="0.8"/><rect x="285" y="479.7" width="11" height="5.6" rx="2" stroke-width="1.1" stroke="#333"/><rect x="253.00" y="479.70" width="6.00" height="5.10" stroke-width="0.7"/><rect x="277.00" y="479.70" width="6.00" height="5.10" stroke-width="0.7"/><line x1="279.00" y1="482.50" x2="283.00" y2="482.50" stroke-width="0.7"/><rect x="250.10" y="527.80" width="46.20" height="8.10" stroke-width="0.9"/><polyline points="250.10,527.80 273.70,527.80 273.70,535.90 250.10,535.90" stroke="#222" stroke-width="1.2"/><circle cx="265.50" cy="531.60" r="2.60" stroke="#222" stroke-width="1.5"/><circle cx="265.50" cy="531.60" r="1.00" stroke-width="0.8"/><rect x="285" y="528.8" width="11" height="5.6" rx="2" stroke-width="1.1" stroke="#333"/><rect x="253.00" y="529.30" width="6.00" height="5.10" stroke-width="0.7"/><rect x="277.00" y="529.30" width="6.00" height="5.10" stroke-width="0.7"/><line x1="279.00" y1="531.60" x2="283.00" y2="531.60" stroke-width="0.7"/><line x1="250.00" y1="477.20" x2="274.00" y2="477.20" stroke="#222" stroke-width="1.3"/><line x1="250.00" y1="536.90" x2="274.00" y2="536.90" stroke="#222" stroke-width="1.3"/><line x1="253.50" y1="486.30" x2="253.50" y2="527.80" stroke-width="0.8"/><line x1="257.80" y1="486.30" x2="257.80" y2="527.80" stroke-width="0.8"/><line x1="259.20" y1="486.30" x2="259.20" y2="527.80" stroke-width="0.8"/><line x1="267.40" y1="486.30" x2="267.40" y2="527.80" stroke-width="0.8"/><line x1="268.80" y1="486.30" x2="268.80" y2="527.80" stroke-width="0.8"/><line x1="274.10" y1="486.30" x2="274.10" y2="527.80" stroke-width="0.8"/><line x1="279.00" y1="486.30" x2="279.00" y2="527.80" stroke-width="0.8"/><line x1="280.40" y1="486.30" x2="280.40" y2="527.80" stroke-width="0.8"/><line x1="287.60" y1="486.30" x2="287.60" y2="527.80" stroke-width="0.8"/><line x1="292.40" y1="486.30" x2="292.40" y2="527.80" stroke-width="0.8"/><line x1="253.50" y1="490.70" x2="292.40" y2="490.70" stroke-width="0.7"/><line x1="253.50" y1="495.50" x2="292.40" y2="495.50" stroke-width="0.7"/><line x1="253.50" y1="518.00" x2="292.40" y2="518.00" stroke-width="0.7"/><line x1="253.50" y1="522.40" x2="292.40" y2="522.40" stroke-width="0.7"/><rect x="256.80" y="503.20" width="9.20" height="7.70" stroke="#222" stroke-width="1.2"/><rect x="279.90" y="503.20" width="9.10" height="7.70" stroke="#333" stroke-width="1.1"/><line x1="254.00" y1="505.50" x2="292.00" y2="505.50" stroke="#333" stroke-width="1.0"/><line x1="254.00" y1="507.50" x2="292.00" y2="507.50" stroke="#333" stroke-width="1.0"/><circle cx="259.00" cy="492.00" r="0.80" fill="#333"/><circle cx="287.00" cy="492.00" r="0.80" fill="#333"/><circle cx="259.00" cy="521.00" r="0.80" fill="#333"/><circle cx="287.00" cy="521.00" r="0.80" fill="#333"/><rect x="230.00" y="486.30" width="9.70" height="40.70" stroke-width="0.8"/><rect x="239.70" y="497.40" width="2.70" height="18.80" stroke-width="0.8"/><path d="M242.4,503 l4.5,7 M242.4,510 l4.5,-7" stroke-width="0.8"/><rect x="301.00" y="482.50" width="27.60" height="48.90" stroke-width="0.9"/><line x1="302.50" y1="483.00" x2="302.50" y2="531.00" stroke="#444" stroke-width="0.7"/><line x1="305.25" y1="483.00" x2="305.25" y2="531.00" stroke="#888" stroke-width="0.5"/><line x1="308.00" y1="483.00" x2="308.00" y2="531.00" stroke="#444" stroke-width="0.7"/><line x1="310.75" y1="483.00" x2="310.75" y2="531.00" stroke="#888" stroke-width="0.5"/><line x1="313.50" y1="483.00" x2="313.50" y2="531.00" stroke="#444" stroke-width="0.7"/><line x1="316.25" y1="483.00" x2="316.25" y2="531.00" stroke="#888" stroke-width="0.5"/><line x1="319.00" y1="483.00" x2="319.00" y2="531.00" stroke="#444" stroke-width="0.7"/><line x1="321.75" y1="483.00" x2="321.75" y2="531.00" stroke="#888" stroke-width="0.5"/><line x1="324.50" y1="483.00" x2="324.50" y2="531.00" stroke="#444" stroke-width="0.7"/><line x1="327.25" y1="483.00" x2="327.25" y2="531.00" stroke="#888" stroke-width="0.5"/><line x1="301.00" y1="483.00" x2="328.60" y2="483.00" stroke="#333" stroke-width="1.8"/><line x1="301.00" y1="531.00" x2="328.60" y2="531.00" stroke="#333" stroke-width="1.8"/><circle cx="305.00" cy="482.50" r="0.90" fill="#333"/><circle cx="305.00" cy="531.40" r="0.90" fill="#333"/><circle cx="313.00" cy="482.50" r="0.90" fill="#333"/><circle cx="313.00" cy="531.40" r="0.90" fill="#333"/><circle cx="321.00" cy="482.50" r="0.90" fill="#333"/><circle cx="321.00" cy="531.40" r="0.90" fill="#333"/><line x1="333.50" y1="478.20" x2="529.50" y2="478.20" stroke-width="0.8"/><line x1="333.50" y1="534.90" x2="529.50" y2="534.90" stroke-width="0.8"/><line x1="351.20" y1="474.00" x2="351.20" y2="482.50" stroke-width="0.6"/><line x1="351.20" y1="531.40" x2="351.20" y2="540.00" stroke-width="0.6"/><line x1="366.80" y1="474.00" x2="366.80" y2="482.50" stroke-width="0.6"/><line x1="366.80" y1="531.40" x2="366.80" y2="540.00" stroke-width="0.6"/><line x1="432.70" y1="474.00" x2="432.70" y2="482.50" stroke-width="0.6"/><line x1="432.70" y1="531.40" x2="432.70" y2="540.00" stroke-width="0.6"/><line x1="441.90" y1="474.00" x2="441.90" y2="482.50" stroke-width="0.6"/><line x1="441.90" y1="531.40" x2="441.90" y2="540.00" stroke-width="0.6"/><line x1="500.60" y1="474.00" x2="500.60" y2="482.50" stroke-width="0.6"/><line x1="500.60" y1="531.40" x2="500.60" y2="540.00" stroke-width="0.6"/><line x1="515.60" y1="474.00" x2="515.60" y2="482.50" stroke-width="0.6"/><line x1="515.60" y1="531.40" x2="515.60" y2="540.00" stroke-width="0.6"/><line x1="338.30" y1="482.50" x2="338.30" y2="531.40" stroke="#444" stroke-width="0.9"/><line x1="340.10" y1="484.00" x2="340.10" y2="529.80" stroke="#777" stroke-width="0.6"/><line x1="342.40" y1="484.00" x2="342.40" y2="529.80" stroke="#999" stroke-width="0.5"/><line x1="345.85" y1="484.00" x2="345.85" y2="529.80" stroke="#999" stroke-width="0.5"/><line x1="348.55" y1="484.00" x2="348.55" y2="529.80" stroke="#777" stroke-width="0.6"/><line x1="350.85" y1="482.50" x2="350.85" y2="531.40" stroke="#444" stroke-width="0.9"/><path d="M343.1,482.8 q2,2.2 4,0 M343.1,531.1 q2,-2.2 4,0" stroke-width="0.9"/><line x1="352.85" y1="482.50" x2="352.85" y2="531.40" stroke="#444" stroke-width="0.9"/><line x1="354.65" y1="484.00" x2="354.65" y2="529.80" stroke="#777" stroke-width="0.6"/><line x1="356.95" y1="484.00" x2="356.95" y2="529.80" stroke="#999" stroke-width="0.5"/><line x1="360.40" y1="484.00" x2="360.40" y2="529.80" stroke="#999" stroke-width="0.5"/><line x1="363.10" y1="484.00" x2="363.10" y2="529.80" stroke="#777" stroke-width="0.6"/><line x1="365.40" y1="482.50" x2="365.40" y2="531.40" stroke="#444" stroke-width="0.9"/><path d="M357.6,482.8 q2,2.2 4,0 M357.6,531.1 q2,-2.2 4,0" stroke-width="0.9"/><line x1="367.40" y1="482.50" x2="367.40" y2="531.40" stroke="#444" stroke-width="0.9"/><line x1="369.20" y1="484.00" x2="369.20" y2="529.80" stroke="#777" stroke-width="0.6"/><line x1="371.50" y1="484.00" x2="371.50" y2="529.80" stroke="#999" stroke-width="0.5"/><line x1="374.95" y1="484.00" x2="374.95" y2="529.80" stroke="#999" stroke-width="0.5"/><line x1="377.65" y1="484.00" x2="377.65" y2="529.80" stroke="#777" stroke-width="0.6"/><line x1="379.95" y1="482.50" x2="379.95" y2="531.40" stroke="#444" stroke-width="0.9"/><path d="M372.2,482.8 q2,2.2 4,0 M372.2,531.1 q2,-2.2 4,0" stroke-width="0.9"/><line x1="381.95" y1="482.50" x2="381.95" y2="531.40" stroke="#444" stroke-width="0.9"/><line x1="383.75" y1="484.00" x2="383.75" y2="529.80" stroke="#777" stroke-width="0.6"/><line x1="386.05" y1="484.00" x2="386.05" y2="529.80" stroke="#999" stroke-width="0.5"/><line x1="389.50" y1="484.00" x2="389.50" y2="529.80" stroke="#999" stroke-width="0.5"/><line x1="392.20" y1="484.00" x2="392.20" y2="529.80" stroke="#777" stroke-width="0.6"/><line x1="394.50" y1="482.50" x2="394.50" y2="531.40" stroke="#444" stroke-width="0.9"/><path d="M386.7,482.8 q2,2.2 4,0 M386.7,531.1 q2,-2.2 4,0" stroke-width="0.9"/><line x1="416.50" y1="482.50" x2="416.50" y2="531.40" stroke="#444" stroke-width="0.9"/><line x1="418.30" y1="484.00" x2="418.30" y2="529.80" stroke="#777" stroke-width="0.6"/><line x1="420.60" y1="484.00" x2="420.60" y2="529.80" stroke="#999" stroke-width="0.5"/><line x1="426.20" y1="484.00" x2="426.20" y2="529.80" stroke="#999" stroke-width="0.5"/><line x1="428.90" y1="484.00" x2="428.90" y2="529.80" stroke="#777" stroke-width="0.6"/><line x1="431.20" y1="482.50" x2="431.20" y2="531.40" stroke="#444" stroke-width="0.9"/><path d="M422.4,482.8 q2,2.2 4,0 M422.4,531.1 q2,-2.2 4,0" stroke-width="0.9"/><line x1="442.40" y1="482.50" x2="442.40" y2="531.40" stroke="#444" stroke-width="0.9"/><line x1="444.20" y1="484.00" x2="444.20" y2="529.80" stroke="#777" stroke-width="0.6"/><line x1="446.50" y1="484.00" x2="446.50" y2="529.80" stroke="#999" stroke-width="0.5"/><line x1="450.00" y1="484.00" x2="450.00" y2="529.80" stroke="#999" stroke-width="0.5"/><line x1="452.70" y1="484.00" x2="452.70" y2="529.80" stroke="#777" stroke-width="0.6"/><line x1="455.00" y1="482.50" x2="455.00" y2="531.40" stroke="#444" stroke-width="0.9"/><path d="M447.2,482.8 q2,2.2 4,0 M447.2,531.1 q2,-2.2 4,0" stroke-width="0.9"/><line x1="457.00" y1="482.50" x2="457.00" y2="531.40" stroke="#444" stroke-width="0.9"/><line x1="458.80" y1="484.00" x2="458.80" y2="529.80" stroke="#777" stroke-width="0.6"/><line x1="461.10" y1="484.00" x2="461.10" y2="529.80" stroke="#999" stroke-width="0.5"/><line x1="464.60" y1="484.00" x2="464.60" y2="529.80" stroke="#999" stroke-width="0.5"/><line x1="467.30" y1="484.00" x2="467.30" y2="529.80" stroke="#777" stroke-width="0.6"/><line x1="469.60" y1="482.50" x2="469.60" y2="531.40" stroke="#444" stroke-width="0.9"/><path d="M461.8,482.8 q2,2.2 4,0 M461.8,531.1 q2,-2.2 4,0" stroke-width="0.9"/><line x1="471.60" y1="482.50" x2="471.60" y2="531.40" stroke="#444" stroke-width="0.9"/><line x1="473.40" y1="484.00" x2="473.40" y2="529.80" stroke="#777" stroke-width="0.6"/><line x1="475.70" y1="484.00" x2="475.70" y2="529.80" stroke="#999" stroke-width="0.5"/><line x1="479.20" y1="484.00" x2="479.20" y2="529.80" stroke="#999" stroke-width="0.5"/><line x1="481.90" y1="484.00" x2="481.90" y2="529.80" stroke="#777" stroke-width="0.6"/><line x1="484.20" y1="482.50" x2="484.20" y2="531.40" stroke="#444" stroke-width="0.9"/><path d="M476.4,482.8 q2,2.2 4,0 M476.4,531.1 q2,-2.2 4,0" stroke-width="0.9"/><line x1="486.20" y1="482.50" x2="486.20" y2="531.40" stroke="#444" stroke-width="0.9"/><line x1="488.00" y1="484.00" x2="488.00" y2="529.80" stroke="#777" stroke-width="0.6"/><line x1="490.30" y1="484.00" x2="490.30" y2="529.80" stroke="#999" stroke-width="0.5"/><line x1="493.80" y1="484.00" x2="493.80" y2="529.80" stroke="#999" stroke-width="0.5"/><line x1="496.50" y1="484.00" x2="496.50" y2="529.80" stroke="#777" stroke-width="0.6"/><line x1="498.80" y1="482.50" x2="498.80" y2="531.40" stroke="#444" stroke-width="0.9"/><path d="M491.0,482.8 q2,2.2 4,0 M491.0,531.1 q2,-2.2 4,0" stroke-width="0.9"/><line x1="500.80" y1="482.50" x2="500.80" y2="531.40" stroke="#444" stroke-width="0.9"/><line x1="502.60" y1="484.00" x2="502.60" y2="529.80" stroke="#777" stroke-width="0.6"/><line x1="504.90" y1="484.00" x2="504.90" y2="529.80" stroke="#999" stroke-width="0.5"/><line x1="508.40" y1="484.00" x2="508.40" y2="529.80" stroke="#999" stroke-width="0.5"/><line x1="511.10" y1="484.00" x2="511.10" y2="529.80" stroke="#777" stroke-width="0.6"/><line x1="513.40" y1="482.50" x2="513.40" y2="531.40" stroke="#444" stroke-width="0.9"/><path d="M505.6,482.8 q2,2.2 4,0 M505.6,531.1 q2,-2.2 4,0" stroke-width="0.9"/><line x1="515.40" y1="482.50" x2="515.40" y2="531.40" stroke="#444" stroke-width="0.9"/><line x1="517.20" y1="484.00" x2="517.20" y2="529.80" stroke="#777" stroke-width="0.6"/><line x1="519.50" y1="484.00" x2="519.50" y2="529.80" stroke="#999" stroke-width="0.5"/><line x1="523.00" y1="484.00" x2="523.00" y2="529.80" stroke="#999" stroke-width="0.5"/><line x1="525.70" y1="484.00" x2="525.70" y2="529.80" stroke="#777" stroke-width="0.6"/><line x1="528.00" y1="482.50" x2="528.00" y2="531.40" stroke="#444" stroke-width="0.9"/><path d="M520.2,482.8 q2,2.2 4,0 M520.2,531.1 q2,-2.2 4,0" stroke-width="0.9"/><line x1="337.80" y1="482.30" x2="396.00" y2="482.30" stroke-width="0.8"/><line x1="337.80" y1="531.60" x2="396.00" y2="531.60" stroke-width="0.8"/><rect x="369.30" y="500.30" width="12.00" height="12.00" stroke-width="0.8"/><line x1="371.00" y1="502.00" x2="379.50" y2="510.50" stroke-width="0.7"/><line x1="371.00" y1="510.50" x2="379.50" y2="502.00" stroke-width="0.7"/><rect x="485.00" y="500.00" width="12.00" height="12.00" stroke-width="0.9"/><line x1="487.00" y1="502.00" x2="495.00" y2="510.00" stroke-width="0.7"/><line x1="487.00" y1="510.00" x2="495.00" y2="502.00" stroke-width="0.7"/><circle cx="491.00" cy="506.00" r="1.50" stroke-width="0.7"/><rect x="386.80" y="504.50" width="4.00" height="4.00" stroke-width="0.6"/><rect x="348.00" y="500.50" width="4.00" height="4.00" stroke-width="0.6"/><rect x="396.00" y="444.50" width="19.90" height="132.20" stroke-width="1.1"/><line x1="396.00" y1="446.00" x2="415.90" y2="446.00" stroke="#555" stroke-width="1.0"/><line x1="396.00" y1="450.70" x2="415.90" y2="450.70" stroke="#555" stroke-width="1.0"/><line x1="396.00" y1="455.40" x2="415.90" y2="455.40" stroke="#555" stroke-width="1.0"/><line x1="396.00" y1="460.10" x2="415.90" y2="460.10" stroke="#555" stroke-width="1.0"/><line x1="396.00" y1="464.80" x2="415.90" y2="464.80" stroke="#555" stroke-width="1.0"/><line x1="396.00" y1="469.50" x2="415.90" y2="469.50" stroke="#555" stroke-width="1.0"/><line x1="396.00" y1="474.20" x2="415.90" y2="474.20" stroke="#555" stroke-width="1.0"/><line x1="396.00" y1="478.90" x2="415.90" y2="478.90" stroke="#555" stroke-width="1.0"/><line x1="396.00" y1="483.60" x2="415.90" y2="483.60" stroke="#555" stroke-width="1.0"/><line x1="396.00" y1="534.00" x2="415.90" y2="534.00" stroke="#555" stroke-width="1.0"/><line x1="396.00" y1="538.70" x2="415.90" y2="538.70" stroke="#555" stroke-width="1.0"/><line x1="396.00" y1="543.40" x2="415.90" y2="543.40" stroke="#555" stroke-width="1.0"/><line x1="396.00" y1="548.10" x2="415.90" y2="548.10" stroke="#555" stroke-width="1.0"/><line x1="396.00" y1="552.80" x2="415.90" y2="552.80" stroke="#555" stroke-width="1.0"/><line x1="396.00" y1="557.50" x2="415.90" y2="557.50" stroke="#555" stroke-width="1.0"/><line x1="396.00" y1="562.20" x2="415.90" y2="562.20" stroke="#555" stroke-width="1.0"/><line x1="396.00" y1="566.90" x2="415.90" y2="566.90" stroke="#555" stroke-width="1.0"/><line x1="396.00" y1="571.60" x2="415.90" y2="571.60" stroke="#555" stroke-width="1.0"/><rect x="393.00" y="436.20" width="6.20" height="8.30" stroke-width="1.0"/><line x1="396.10" y1="436.20" x2="396.10" y2="444.50" stroke-width="0.6"/><rect x="393.00" y="569.20" width="6.20" height="8.50" stroke-width="1.0"/><line x1="396.10" y1="569.20" x2="396.10" y2="577.70" stroke-width="0.6"/><rect x="412.70" y="436.20" width="6.30" height="8.30" stroke-width="1.0"/><line x1="415.85" y1="436.20" x2="415.85" y2="444.50" stroke-width="0.6"/><rect x="412.70" y="569.20" width="6.30" height="8.50" stroke-width="1.0"/><line x1="415.85" y1="569.20" x2="415.85" y2="577.70" stroke-width="0.6"/><line x1="396.00" y1="484.00" x2="396.00" y2="534.00" stroke-width="1.1"/><line x1="415.90" y1="484.00" x2="415.90" y2="534.00" stroke-width="1.1"/><rect x="536.10" y="484.50" width="20.30" height="44.50" stroke-width="0.8"/><line x1="541.00" y1="484.50" x2="541.00" y2="529.00" stroke-width="0.7"/><line x1="545.00" y1="484.50" x2="545.00" y2="529.00" stroke-width="0.7"/><line x1="549.00" y1="484.50" x2="549.00" y2="529.00" stroke-width="0.7"/><line x1="553.00" y1="484.50" x2="553.00" y2="529.00" stroke-width="0.7"/><path d="M536.1,484.8 L548,482.7 L556.4,482.7 M536.1,528.7 L548,530.7 L556.4,530.7" stroke="#333" stroke-width="1.4"/><circle cx="540.00" cy="483.50" r="1.00" fill="#333"/><circle cx="540.00" cy="530.00" r="1.00" fill="#333"/><circle cx="545.00" cy="483.50" r="1.00" fill="#333"/><circle cx="545.00" cy="530.00" r="1.00" fill="#333"/><circle cx="550.00" cy="483.50" r="1.00" fill="#333"/><circle cx="550.00" cy="530.00" r="1.00" fill="#333"/><polyline points="556.40,480.00 559.00,480.00 559.00,476.00 580.00,476.00 580.00,480.00 583.50,480.00 583.50,533.00 580.00,533.00 580.00,536.80 559.00,536.80 559.00,533.00 556.40,533.00 556.40,480.00" stroke-width="1.0"/><line x1="563.80" y1="470.00" x2="563.80" y2="544.00" stroke="#333" stroke-width="0.9"/><line x1="565.60" y1="470.00" x2="565.60" y2="544.00" stroke="#333" stroke-width="0.9"/><line x1="573.60" y1="470.00" x2="573.60" y2="544.00" stroke="#333" stroke-width="0.9"/><line x1="576.10" y1="470.00" x2="576.10" y2="544.00" stroke="#333" stroke-width="0.9"/><circle cx="564.70" cy="490.10" r="2.90" stroke="#222" stroke-width="1.2" fill="#444"/><circle cx="574.90" cy="490.10" r="2.90" stroke="#222" stroke-width="1.2" fill="#444"/><circle cx="564.70" cy="523.30" r="2.90" stroke="#222" stroke-width="1.2" fill="#444"/><circle cx="574.90" cy="523.30" r="2.90" stroke="#222" stroke-width="1.2" fill="#444"/><rect x="561.00" y="505.60" width="5.00" height="2.00" stroke-width="0.7" fill="#333"/><rect x="573.00" y="505.60" width="5.00" height="2.00" stroke-width="0.7" fill="#333"/><rect x="565.60" y="469.20" width="6.80" height="8.60" stroke="#222" stroke-width="1.1" fill="#999"/><rect x="565.60" y="535.60" width="6.80" height="8.60" stroke="#222" stroke-width="1.1" fill="#999"/><line x1="569.00" y1="463.00" x2="569.00" y2="469.00" stroke-width="0.7"/><line x1="569.00" y1="544.00" x2="569.00" y2="550.00" stroke-width="0.7"/><rect x="558.00" y="471.00" width="6.00" height="5.00" stroke-width="0.7"/><rect x="558.00" y="537.00" width="6.00" height="5.00" stroke-width="0.7"/><line x1="556.40" y1="485.00" x2="583.50" y2="485.00" stroke-width="0.7"/><line x1="556.40" y1="528.00" x2="583.50" y2="528.00" stroke-width="0.7"/><rect x="583.50" y="477.00" width="5.50" height="6.00" stroke-width="0.8"/><rect x="589.00" y="477.00" width="6.00" height="6.00" stroke-width="0.8"/><rect x="583.50" y="530.00" width="5.50" height="6.00" stroke-width="0.8"/><rect x="589.00" y="530.00" width="6.00" height="6.00" stroke-width="0.8"/><circle cx="580.00" cy="481.00" r="1.10" fill="#333"/><circle cx="580.00" cy="532.00" r="1.10" fill="#333"/><line x1="569.00" y1="477.80" x2="569.00" y2="535.60" stroke="#777" stroke-width="0.6"/><polyline points="618.80,466.50 618.80,468.10 588.90,468.10 588.90,545.20 661.20,545.20" stroke="#9a9a9a" stroke-width="1.5"/><polyline points="617.40,463.30 617.40,470.20 591.00,470.20 591.00,543.80 661.20,543.80" stroke="#888" stroke-width="0.6"/><polyline points="625.00,466.50 625.00,468.10 654.20,468.10 654.20,539.70 661.20,539.70" stroke="#9a9a9a" stroke-width="1.5"/><polyline points="626.40,463.30 626.40,470.20 652.80,470.20 652.80,539.70" stroke="#888" stroke-width="0.6"/><rect x="595.20" y="474.40" width="53.50" height="11.80" stroke-width="1.0"/><rect x="603.50" y="475.90" width="14.50" height="8.80" stroke-width="0.8"/><rect x="626.40" y="475.90" width="14.60" height="8.80" stroke-width="0.8"/><circle cx="610.50" cy="480.30" r="3.20" stroke-width="0.9"/><line x1="608.00" y1="480.30" x2="613.00" y2="480.30" stroke="#222" stroke-width="0.9"/><line x1="610.50" y1="477.80" x2="610.50" y2="482.80" stroke="#222" stroke-width="0.9"/><line x1="608.50" y1="478.30" x2="612.50" y2="482.30" stroke-width="0.7"/><line x1="608.50" y1="482.30" x2="612.50" y2="478.30" stroke-width="0.7"/><circle cx="633.40" cy="480.30" r="3.20" stroke-width="0.9"/><line x1="630.90" y1="480.30" x2="635.90" y2="480.30" stroke="#222" stroke-width="0.9"/><line x1="633.40" y1="477.80" x2="633.40" y2="482.80" stroke="#222" stroke-width="0.9"/><line x1="631.40" y1="478.30" x2="635.40" y2="482.30" stroke-width="0.7"/><line x1="631.40" y1="482.30" x2="635.40" y2="478.30" stroke-width="0.7"/><rect x="585.50" y="477.60" width="9.70" height="5.40" stroke-width="0.9"/><line x1="589.50" y1="477.60" x2="589.50" y2="483.00" stroke-width="0.7"/><rect x="648.70" y="478.30" width="3.30" height="4.00" stroke-width="0.8"/><line x1="597.00" y1="473.40" x2="647.00" y2="473.40" stroke-width="0.6"/><line x1="598.00" y1="473.90" x2="598.00" y2="475.60" stroke-width="0.7"/><line x1="605.00" y1="473.90" x2="605.00" y2="475.60" stroke-width="0.7"/><line x1="612.00" y1="473.90" x2="612.00" y2="475.60" stroke-width="0.7"/><line x1="620.00" y1="473.90" x2="620.00" y2="475.60" stroke-width="0.7"/><line x1="628.00" y1="473.90" x2="628.00" y2="475.60" stroke-width="0.7"/><line x1="636.00" y1="473.90" x2="636.00" y2="475.60" stroke-width="0.7"/><line x1="643.00" y1="473.90" x2="643.00" y2="475.60" stroke-width="0.7"/><rect x="595.20" y="527.20" width="53.50" height="11.80" stroke-width="1.0"/><rect x="603.50" y="528.70" width="14.50" height="8.80" stroke-width="0.8"/><rect x="626.40" y="528.70" width="14.60" height="8.80" stroke-width="0.8"/><circle cx="610.50" cy="533.10" r="3.20" stroke-width="0.9"/><line x1="608.00" y1="533.10" x2="613.00" y2="533.10" stroke="#222" stroke-width="0.9"/><line x1="610.50" y1="530.60" x2="610.50" y2="535.60" stroke="#222" stroke-width="0.9"/><line x1="608.50" y1="531.10" x2="612.50" y2="535.10" stroke-width="0.7"/><line x1="608.50" y1="535.10" x2="612.50" y2="531.10" stroke-width="0.7"/><circle cx="633.40" cy="533.10" r="3.20" stroke-width="0.9"/><line x1="630.90" y1="533.10" x2="635.90" y2="533.10" stroke="#222" stroke-width="0.9"/><line x1="633.40" y1="530.60" x2="633.40" y2="535.60" stroke="#222" stroke-width="0.9"/><line x1="631.40" y1="531.10" x2="635.40" y2="535.10" stroke-width="0.7"/><line x1="631.40" y1="535.10" x2="635.40" y2="531.10" stroke-width="0.7"/><rect x="585.50" y="530.40" width="9.70" height="5.40" stroke-width="0.9"/><line x1="589.50" y1="530.40" x2="589.50" y2="535.80" stroke-width="0.7"/><rect x="648.70" y="531.10" width="3.30" height="4.00" stroke-width="0.8"/><line x1="597.00" y1="540.00" x2="647.00" y2="540.00" stroke-width="0.6"/><line x1="598.00" y1="537.80" x2="598.00" y2="539.50" stroke-width="0.7"/><line x1="605.00" y1="537.80" x2="605.00" y2="539.50" stroke-width="0.7"/><line x1="612.00" y1="537.80" x2="612.00" y2="539.50" stroke-width="0.7"/><line x1="620.00" y1="537.80" x2="620.00" y2="539.50" stroke-width="0.7"/><line x1="628.00" y1="537.80" x2="628.00" y2="539.50" stroke-width="0.7"/><line x1="636.00" y1="537.80" x2="636.00" y2="539.50" stroke-width="0.7"/><line x1="643.00" y1="537.80" x2="643.00" y2="539.50" stroke-width="0.7"/><line x1="595.00" y1="486.90" x2="649.00" y2="486.90" stroke-width="0.8"/><line x1="595.00" y1="527.20" x2="649.00" y2="527.20" stroke-width="0.8"/><line x1="603.50" y1="486.90" x2="603.50" y2="527.20" stroke="#777" stroke-width="0.6"/><line x1="622.30" y1="486.90" x2="622.30" y2="527.20" stroke="#777" stroke-width="0.6"/><line x1="641.70" y1="486.90" x2="641.70" y2="527.20" stroke="#777" stroke-width="0.6"/><circle cx="608.40" cy="497.30" r="4.90" stroke="#666" stroke-width="0.7"/><circle cx="608.40" cy="497.30" r="1.60" stroke-width="0.8"/><line x1="605.90" y1="497.30" x2="610.90" y2="497.30" stroke-width="0.7"/><line x1="608.40" y1="494.80" x2="608.40" y2="499.80" stroke-width="0.7"/><circle cx="635.50" cy="497.30" r="4.90" stroke="#666" stroke-width="0.7"/><circle cx="635.50" cy="497.30" r="1.60" stroke-width="0.8"/><line x1="633.00" y1="497.30" x2="638.00" y2="497.30" stroke-width="0.7"/><line x1="635.50" y1="494.80" x2="635.50" y2="499.80" stroke-width="0.7"/><circle cx="608.40" cy="516.00" r="4.90" stroke="#666" stroke-width="0.7"/><circle cx="608.40" cy="516.00" r="1.60" stroke-width="0.8"/><line x1="605.90" y1="516.00" x2="610.90" y2="516.00" stroke-width="0.7"/><line x1="608.40" y1="513.50" x2="608.40" y2="518.50" stroke-width="0.7"/><circle cx="635.50" cy="516.00" r="4.90" stroke="#666" stroke-width="0.7"/><circle cx="635.50" cy="516.00" r="1.60" stroke-width="0.8"/><line x1="633.00" y1="516.00" x2="638.00" y2="516.00" stroke-width="0.7"/><line x1="635.50" y1="513.50" x2="635.50" y2="518.50" stroke-width="0.7"/><rect x="613.40" y="488.30" width="2.40" height="13.90" stroke-width="0.7"/><rect x="613.60" y="489.00" width="2.00" height="3.00" stroke-width="0.7" fill="#333"/><rect x="613.60" y="498.00" width="2.00" height="3.00" stroke-width="0.7" fill="#333"/><rect x="613.40" y="511.00" width="2.40" height="14.00" stroke-width="0.7"/><rect x="613.60" y="512.00" width="2.00" height="3.00" stroke-width="0.7" fill="#333"/><rect x="613.60" y="521.00" width="2.00" height="3.00" stroke-width="0.7" fill="#333"/><rect x="628.70" y="488.30" width="2.40" height="13.90" stroke-width="0.7"/><rect x="628.90" y="489.00" width="2.00" height="3.00" stroke-width="0.7" fill="#333"/><rect x="628.90" y="498.00" width="2.00" height="3.00" stroke-width="0.7" fill="#333"/><rect x="628.70" y="511.00" width="2.40" height="14.00" stroke-width="0.7"/><rect x="628.90" y="512.00" width="2.00" height="3.00" stroke-width="0.7" fill="#333"/><rect x="628.90" y="521.00" width="2.00" height="3.00" stroke-width="0.7" fill="#333"/><rect x="609.00" y="504.30" width="9.10" height="4.80" stroke-width="1.1"/><rect x="626.40" y="504.30" width="9.10" height="4.80" stroke-width="1.1"/><rect x="618.10" y="502.00" width="8.30" height="9.00" stroke-width="0.7"/><rect x="615.00" y="490.00" width="15.00" height="4.00" stroke-width="0.6"/><rect x="615.00" y="519.00" width="15.00" height="4.00" stroke-width="0.6"/><path d="M599.4,494 l4,6 M599.4,500 l4,-6" stroke="#333" stroke-width="1.2"/><path d="M643.5,493 q-2.5,4 0,8" stroke="#333" stroke-width="1.4"/><path d="M599.4,513 l4,6 M599.4,519 l4,-6" stroke="#333" stroke-width="1.2"/><path d="M643.5,512 q-2.5,4 0,8" stroke="#333" stroke-width="1.4"/><path d="M600,489 q-4,6 -3,12 M600,512 q-4,6 -1,13 M644,489 q4,6 3,12 M644,512 q4,6 1,13" stroke-width="0.7"/><path d="M644,504 l5,4 l-5,4 M654,504 l-5,4 l5,4" stroke="#333" stroke-width="1.1"/><line x1="595.00" y1="506.50" x2="655.00" y2="506.50" stroke-width="0.7"/><line x1="622.30" y1="470.00" x2="622.30" y2="545.00" stroke="#888" stroke-width="0.6"/><line x1="661.20" y1="466.50" x2="661.20" y2="593.00" stroke="#9a9a9a" stroke-width="1.5"/><line x1="665.30" y1="466.50" x2="665.30" y2="593.00" stroke="#9a9a9a" stroke-width="1.5"/><rect x="667.30" y="461.60" width="15.90" height="131.40" stroke="#9a9a9a" stroke-width="1.3"/><rect x="668.50" y="474.00" width="9.00" height="65.80" stroke-width="0.9"/><line x1="673.00" y1="470.00" x2="673.00" y2="543.00" stroke-width="0.8"/><path d="M670.5,473 l2.5,-3 l2.5,3 M670.5,541 l2.5,3 l2.5,-3" stroke-width="0.8"/><line x1="692.00" y1="459.80" x2="692.00" y2="603.80" stroke="#9a9a9a" stroke-width="1.4"/><line x1="680.20" y1="477.40" x2="680.20" y2="587.40" stroke-width="0.6"/><line x1="682.60" y1="477.40" x2="682.60" y2="587.40" stroke-width="0.6"/><ellipse cx="681.40" cy="479.00" rx="1.6" ry="1.6" stroke-width="0.9" stroke="#444"/><ellipse cx="681.40" cy="481.60" rx="1.6" ry="1.6" stroke-width="0.9" stroke="#444"/><ellipse cx="681.40" cy="484.20" rx="1.6" ry="1.6" stroke-width="0.9" stroke="#444"/><ellipse cx="681.40" cy="486.80" rx="1.6" ry="1.6" stroke-width="0.9" stroke="#444"/><ellipse cx="681.40" cy="489.40" rx="1.6" ry="1.6" stroke-width="0.9" stroke="#444"/><ellipse cx="681.40" cy="492.00" rx="1.6" ry="1.6" stroke-width="0.9" stroke="#444"/><ellipse cx="681.40" cy="494.60" rx="1.6" ry="1.6" stroke-width="0.9" stroke="#444"/><ellipse cx="681.40" cy="497.20" rx="1.6" ry="1.6" stroke-width="0.9" stroke="#444"/><ellipse cx="681.40" cy="499.80" rx="1.6" ry="1.6" stroke-width="0.9" stroke="#444"/><ellipse cx="681.40" cy="502.40" rx="1.6" ry="1.6" stroke-width="0.9" stroke="#444"/><ellipse cx="681.40" cy="505.00" rx="1.6" ry="1.6" stroke-width="0.9" stroke="#444"/><ellipse cx="681.40" cy="507.60" rx="1.6" ry="1.6" stroke-width="0.9" stroke="#444"/><ellipse cx="681.40" cy="510.20" rx="1.6" ry="1.6" stroke-width="0.9" stroke="#444"/><ellipse cx="681.40" cy="512.80" rx="1.6" ry="1.6" stroke-width="0.9" stroke="#444"/><ellipse cx="681.40" cy="515.40" rx="1.6" ry="1.6" stroke-width="0.9" stroke="#444"/><ellipse cx="681.40" cy="518.00" rx="1.6" ry="1.6" stroke-width="0.9" stroke="#444"/><ellipse cx="681.40" cy="520.60" rx="1.6" ry="1.6" stroke-width="0.9" stroke="#444"/><ellipse cx="681.40" cy="523.20" rx="1.6" ry="1.6" stroke-width="0.9" stroke="#444"/><ellipse cx="681.40" cy="525.80" rx="1.6" ry="1.6" stroke-width="0.9" stroke="#444"/><ellipse cx="681.40" cy="528.40" rx="1.6" ry="1.6" stroke-width="0.9" stroke="#444"/><ellipse cx="681.40" cy="531.00" rx="1.6" ry="1.6" stroke-width="0.9" stroke="#444"/><ellipse cx="681.40" cy="533.60" rx="1.6" ry="1.6" stroke-width="0.9" stroke="#444"/><ellipse cx="681.40" cy="536.20" rx="1.6" ry="1.6" stroke-width="0.9" stroke="#444"/><ellipse cx="681.40" cy="538.80" rx="1.6" ry="1.6" stroke-width="0.9" stroke="#444"/><ellipse cx="681.40" cy="541.40" rx="1.6" ry="1.6" stroke-width="0.9" stroke="#444"/><ellipse cx="681.40" cy="544.00" rx="1.6" ry="1.6" stroke-width="0.9" stroke="#444"/><ellipse cx="681.40" cy="546.60" rx="1.6" ry="1.6" stroke-width="0.9" stroke="#444"/><ellipse cx="681.40" cy="549.20" rx="1.6" ry="1.6" stroke-width="0.9" stroke="#444"/><ellipse cx="681.40" cy="551.80" rx="1.6" ry="1.6" stroke-width="0.9" stroke="#444"/><ellipse cx="681.40" cy="554.40" rx="1.6" ry="1.6" stroke-width="0.9" stroke="#444"/><ellipse cx="681.40" cy="557.00" rx="1.6" ry="1.6" stroke-width="0.9" stroke="#444"/><ellipse cx="681.40" cy="559.60" rx="1.6" ry="1.6" stroke-width="0.9" stroke="#444"/><ellipse cx="681.40" cy="562.20" rx="1.6" ry="1.6" stroke-width="0.9" stroke="#444"/><ellipse cx="681.40" cy="564.80" rx="1.6" ry="1.6" stroke-width="0.9" stroke="#444"/><ellipse cx="681.40" cy="567.40" rx="1.6" ry="1.6" stroke-width="0.9" stroke="#444"/><ellipse cx="681.40" cy="570.00" rx="1.6" ry="1.6" stroke-width="0.9" stroke="#444"/><ellipse cx="681.40" cy="572.60" rx="1.6" ry="1.6" stroke-width="0.9" stroke="#444"/><ellipse cx="681.40" cy="575.20" rx="1.6" ry="1.6" stroke-width="0.9" stroke="#444"/><ellipse cx="681.40" cy="577.80" rx="1.6" ry="1.6" stroke-width="0.9" stroke="#444"/><ellipse cx="681.40" cy="580.40" rx="1.6" ry="1.6" stroke-width="0.9" stroke="#444"/><ellipse cx="681.40" cy="583.00" rx="1.6" ry="1.6" stroke-width="0.9" stroke="#444"/><ellipse cx="681.40" cy="585.60" rx="1.6" ry="1.6" stroke-width="0.9" stroke="#444"/><ellipse cx="681.40" cy="588.20" rx="1.6" ry="1.6" stroke-width="0.9" stroke="#444"/><line x1="691.90" y1="477.40" x2="691.90" y2="587.40" stroke-width="0.6"/><line x1="694.30" y1="477.40" x2="694.30" y2="587.40" stroke-width="0.6"/><ellipse cx="693.10" cy="479.00" rx="1.6" ry="1.6" stroke-width="0.9" stroke="#444"/><ellipse cx="693.10" cy="481.60" rx="1.6" ry="1.6" stroke-width="0.9" stroke="#444"/><ellipse cx="693.10" cy="484.20" rx="1.6" ry="1.6" stroke-width="0.9" stroke="#444"/><ellipse cx="693.10" cy="486.80" rx="1.6" ry="1.6" stroke-width="0.9" stroke="#444"/><ellipse cx="693.10" cy="489.40" rx="1.6" ry="1.6" stroke-width="0.9" stroke="#444"/><ellipse cx="693.10" cy="492.00" rx="1.6" ry="1.6" stroke-width="0.9" stroke="#444"/><ellipse cx="693.10" cy="494.60" rx="1.6" ry="1.6" stroke-width="0.9" stroke="#444"/><ellipse cx="693.10" cy="497.20" rx="1.6" ry="1.6" stroke-width="0.9" stroke="#444"/><ellipse cx="693.10" cy="499.80" rx="1.6" ry="1.6" stroke-width="0.9" stroke="#444"/><ellipse cx="693.10" cy="502.40" rx="1.6" ry="1.6" stroke-width="0.9" stroke="#444"/><ellipse cx="693.10" cy="505.00" rx="1.6" ry="1.6" stroke-width="0.9" stroke="#444"/><ellipse cx="693.10" cy="507.60" rx="1.6" ry="1.6" stroke-width="0.9" stroke="#444"/><ellipse cx="693.10" cy="510.20" rx="1.6" ry="1.6" stroke-width="0.9" stroke="#444"/><ellipse cx="693.10" cy="512.80" rx="1.6" ry="1.6" stroke-width="0.9" stroke="#444"/><ellipse cx="693.10" cy="515.40" rx="1.6" ry="1.6" stroke-width="0.9" stroke="#444"/><ellipse cx="693.10" cy="518.00" rx="1.6" ry="1.6" stroke-width="0.9" stroke="#444"/><ellipse cx="693.10" cy="520.60" rx="1.6" ry="1.6" stroke-width="0.9" stroke="#444"/><ellipse cx="693.10" cy="523.20" rx="1.6" ry="1.6" stroke-width="0.9" stroke="#444"/><ellipse cx="693.10" cy="525.80" rx="1.6" ry="1.6" stroke-width="0.9" stroke="#444"/><ellipse cx="693.10" cy="528.40" rx="1.6" ry="1.6" stroke-width="0.9" stroke="#444"/><ellipse cx="693.10" cy="531.00" rx="1.6" ry="1.6" stroke-width="0.9" stroke="#444"/><ellipse cx="693.10" cy="533.60" rx="1.6" ry="1.6" stroke-width="0.9" stroke="#444"/><ellipse cx="693.10" cy="536.20" rx="1.6" ry="1.6" stroke-width="0.9" stroke="#444"/><ellipse cx="693.10" cy="538.80" rx="1.6" ry="1.6" stroke-width="0.9" stroke="#444"/><ellipse cx="693.10" cy="541.40" rx="1.6" ry="1.6" stroke-width="0.9" stroke="#444"/><ellipse cx="693.10" cy="544.00" rx="1.6" ry="1.6" stroke-width="0.9" stroke="#444"/><ellipse cx="693.10" cy="546.60" rx="1.6" ry="1.6" stroke-width="0.9" stroke="#444"/><ellipse cx="693.10" cy="549.20" rx="1.6" ry="1.6" stroke-width="0.9" stroke="#444"/><ellipse cx="693.10" cy="551.80" rx="1.6" ry="1.6" stroke-width="0.9" stroke="#444"/><ellipse cx="693.10" cy="554.40" rx="1.6" ry="1.6" stroke-width="0.9" stroke="#444"/><ellipse cx="693.10" cy="557.00" rx="1.6" ry="1.6" stroke-width="0.9" stroke="#444"/><ellipse cx="693.10" cy="559.60" rx="1.6" ry="1.6" stroke-width="0.9" stroke="#444"/><ellipse cx="693.10" cy="562.20" rx="1.6" ry="1.6" stroke-width="0.9" stroke="#444"/><ellipse cx="693.10" cy="564.80" rx="1.6" ry="1.6" stroke-width="0.9" stroke="#444"/><ellipse cx="693.10" cy="567.40" rx="1.6" ry="1.6" stroke-width="0.9" stroke="#444"/><ellipse cx="693.10" cy="570.00" rx="1.6" ry="1.6" stroke-width="0.9" stroke="#444"/><ellipse cx="693.10" cy="572.60" rx="1.6" ry="1.6" stroke-width="0.9" stroke="#444"/><ellipse cx="693.10" cy="575.20" rx="1.6" ry="1.6" stroke-width="0.9" stroke="#444"/><ellipse cx="693.10" cy="577.80" rx="1.6" ry="1.6" stroke-width="0.9" stroke="#444"/><ellipse cx="693.10" cy="580.40" rx="1.6" ry="1.6" stroke-width="0.9" stroke="#444"/><ellipse cx="693.10" cy="583.00" rx="1.6" ry="1.6" stroke-width="0.9" stroke="#444"/><ellipse cx="693.10" cy="585.60" rx="1.6" ry="1.6" stroke-width="0.9" stroke="#444"/><ellipse cx="693.10" cy="588.20" rx="1.6" ry="1.6" stroke-width="0.9" stroke="#444"/><path d="M685.5,479.2 a5,5 0 0 1 0,10 M685.5,522.3 a5,5 0 0 1 0,10" stroke-width="0.8"/><line x1="678.00" y1="477.00" x2="698.00" y2="477.00" stroke-width="0.7"/><line x1="678.00" y1="536.00" x2="698.00" y2="536.00" stroke-width="0.7"/><rect x="701.40" y="481.60" width="74.80" height="49.60" stroke-width="1.0"/><line x1="694.00" y1="477.30" x2="776.00" y2="477.30" stroke="#9a9a9a" stroke-width="1.4"/><circle cx="703.00" cy="481.60" r="1.10" stroke-width="0.6" fill="#222"/><circle cx="703.00" cy="531.20" r="1.10" stroke-width="0.6" fill="#222"/><line x1="700.40" y1="483.00" x2="700.40" y2="529.80" stroke="#666" stroke-width="0.6"/><line x1="705.60" y1="483.00" x2="705.60" y2="529.80" stroke="#666" stroke-width="0.6"/><line x1="703.00" y1="483.00" x2="703.00" y2="529.80" stroke="#aaa" stroke-width="0.5"/><rect x="700.70" y="489.40" width="4.6" height="4.6" rx="1" stroke-width="0.8" fill="#fff"/><rect x="700.70" y="500.60" width="4.6" height="4.6" rx="1" stroke-width="0.8" fill="#fff"/><rect x="700.70" y="511.80" width="4.6" height="4.6" rx="1" stroke-width="0.8" fill="#fff"/><rect x="700.70" y="524.70" width="4.6" height="4.6" rx="1" stroke-width="0.8" fill="#fff"/><line x1="707.70" y1="481.60" x2="707.70" y2="531.20" stroke="#333" stroke-width="0.9"/><line x1="709.50" y1="481.60" x2="709.50" y2="531.20" stroke="#333" stroke-width="0.9"/><line x1="708.60" y1="481.60" x2="708.60" y2="531.20" stroke="#aaa" stroke-width="0.8"/><circle cx="714.65" cy="481.60" r="1.10" stroke-width="0.6" fill="#222"/><circle cx="714.65" cy="531.20" r="1.10" stroke-width="0.6" fill="#222"/><line x1="712.05" y1="483.00" x2="712.05" y2="529.80" stroke="#666" stroke-width="0.6"/><line x1="717.25" y1="483.00" x2="717.25" y2="529.80" stroke="#666" stroke-width="0.6"/><line x1="714.65" y1="483.00" x2="714.65" y2="529.80" stroke="#aaa" stroke-width="0.5"/><rect x="712.35" y="484.10" width="4.6" height="4.6" rx="1" stroke-width="0.8" fill="#fff"/><rect x="712.35" y="495.00" width="4.6" height="4.6" rx="1" stroke-width="0.8" fill="#fff"/><rect x="712.35" y="506.70" width="4.6" height="4.6" rx="1" stroke-width="0.8" fill="#fff"/><rect x="712.35" y="520.90" width="4.6" height="4.6" rx="1" stroke-width="0.8" fill="#fff"/><line x1="719.35" y1="481.60" x2="719.35" y2="531.20" stroke="#333" stroke-width="0.9"/><line x1="721.15" y1="481.60" x2="721.15" y2="531.20" stroke="#333" stroke-width="0.9"/><line x1="720.25" y1="481.60" x2="720.25" y2="531.20" stroke="#aaa" stroke-width="0.8"/><circle cx="726.30" cy="481.60" r="1.10" stroke-width="0.6" fill="#222"/><circle cx="726.30" cy="531.20" r="1.10" stroke-width="0.6" fill="#222"/><line x1="723.70" y1="483.00" x2="723.70" y2="529.80" stroke="#666" stroke-width="0.6"/><line x1="728.90" y1="483.00" x2="728.90" y2="529.80" stroke="#666" stroke-width="0.6"/><line x1="726.30" y1="483.00" x2="726.30" y2="529.80" stroke="#aaa" stroke-width="0.5"/><rect x="724.00" y="489.40" width="4.6" height="4.6" rx="1" stroke-width="0.8" fill="#fff"/><rect x="724.00" y="500.60" width="4.6" height="4.6" rx="1" stroke-width="0.8" fill="#fff"/><rect x="724.00" y="511.80" width="4.6" height="4.6" rx="1" stroke-width="0.8" fill="#fff"/><rect x="724.00" y="524.70" width="4.6" height="4.6" rx="1" stroke-width="0.8" fill="#fff"/><line x1="731.00" y1="481.60" x2="731.00" y2="531.20" stroke="#333" stroke-width="0.9"/><line x1="732.80" y1="481.60" x2="732.80" y2="531.20" stroke="#333" stroke-width="0.9"/><line x1="731.90" y1="481.60" x2="731.90" y2="531.20" stroke="#aaa" stroke-width="0.8"/><circle cx="737.95" cy="481.60" r="1.10" stroke-width="0.6" fill="#222"/><circle cx="737.95" cy="531.20" r="1.10" stroke-width="0.6" fill="#222"/><line x1="735.35" y1="483.00" x2="735.35" y2="529.80" stroke="#666" stroke-width="0.6"/><line x1="740.55" y1="483.00" x2="740.55" y2="529.80" stroke="#666" stroke-width="0.6"/><line x1="737.95" y1="483.00" x2="737.95" y2="529.80" stroke="#aaa" stroke-width="0.5"/><rect x="735.65" y="484.10" width="4.6" height="4.6" rx="1" stroke-width="0.8" fill="#fff"/><rect x="735.65" y="495.00" width="4.6" height="4.6" rx="1" stroke-width="0.8" fill="#fff"/><rect x="735.65" y="506.70" width="4.6" height="4.6" rx="1" stroke-width="0.8" fill="#fff"/><rect x="735.65" y="520.90" width="4.6" height="4.6" rx="1" stroke-width="0.8" fill="#fff"/><line x1="742.65" y1="481.60" x2="742.65" y2="531.20" stroke="#333" stroke-width="0.9"/><line x1="744.45" y1="481.60" x2="744.45" y2="531.20" stroke="#333" stroke-width="0.9"/><line x1="743.55" y1="481.60" x2="743.55" y2="531.20" stroke="#aaa" stroke-width="0.8"/><circle cx="749.60" cy="481.60" r="1.10" stroke-width="0.6" fill="#222"/><circle cx="749.60" cy="531.20" r="1.10" stroke-width="0.6" fill="#222"/><line x1="747.00" y1="483.00" x2="747.00" y2="529.80" stroke="#666" stroke-width="0.6"/><line x1="752.20" y1="483.00" x2="752.20" y2="529.80" stroke="#666" stroke-width="0.6"/><line x1="749.60" y1="483.00" x2="749.60" y2="529.80" stroke="#aaa" stroke-width="0.5"/><rect x="747.30" y="489.40" width="4.6" height="4.6" rx="1" stroke-width="0.8" fill="#fff"/><rect x="747.30" y="500.60" width="4.6" height="4.6" rx="1" stroke-width="0.8" fill="#fff"/><rect x="747.30" y="511.80" width="4.6" height="4.6" rx="1" stroke-width="0.8" fill="#fff"/><rect x="747.30" y="524.70" width="4.6" height="4.6" rx="1" stroke-width="0.8" fill="#fff"/><line x1="754.30" y1="481.60" x2="754.30" y2="531.20" stroke="#333" stroke-width="0.9"/><line x1="756.10" y1="481.60" x2="756.10" y2="531.20" stroke="#333" stroke-width="0.9"/><line x1="755.20" y1="481.60" x2="755.20" y2="531.20" stroke="#aaa" stroke-width="0.8"/><circle cx="761.25" cy="481.60" r="1.10" stroke-width="0.6" fill="#222"/><circle cx="761.25" cy="531.20" r="1.10" stroke-width="0.6" fill="#222"/><line x1="758.65" y1="483.00" x2="758.65" y2="529.80" stroke="#666" stroke-width="0.6"/><line x1="763.85" y1="483.00" x2="763.85" y2="529.80" stroke="#666" stroke-width="0.6"/><line x1="761.25" y1="483.00" x2="761.25" y2="529.80" stroke="#aaa" stroke-width="0.5"/><rect x="758.95" y="484.10" width="4.6" height="4.6" rx="1" stroke-width="0.8" fill="#fff"/><rect x="758.95" y="495.00" width="4.6" height="4.6" rx="1" stroke-width="0.8" fill="#fff"/><rect x="758.95" y="506.70" width="4.6" height="4.6" rx="1" stroke-width="0.8" fill="#fff"/><rect x="758.95" y="520.90" width="4.6" height="4.6" rx="1" stroke-width="0.8" fill="#fff"/><line x1="765.95" y1="481.60" x2="765.95" y2="531.20" stroke="#333" stroke-width="0.9"/><line x1="767.75" y1="481.60" x2="767.75" y2="531.20" stroke="#333" stroke-width="0.9"/><line x1="766.85" y1="481.60" x2="766.85" y2="531.20" stroke="#aaa" stroke-width="0.8"/><circle cx="772.90" cy="481.60" r="1.10" stroke-width="0.6" fill="#222"/><circle cx="772.90" cy="531.20" r="1.10" stroke-width="0.6" fill="#222"/><line x1="770.30" y1="483.00" x2="770.30" y2="529.80" stroke="#666" stroke-width="0.6"/><line x1="775.50" y1="483.00" x2="775.50" y2="529.80" stroke="#666" stroke-width="0.6"/><line x1="772.90" y1="483.00" x2="772.90" y2="529.80" stroke="#aaa" stroke-width="0.5"/><rect x="770.60" y="489.40" width="4.6" height="4.6" rx="1" stroke-width="0.8" fill="#fff"/><rect x="770.60" y="500.60" width="4.6" height="4.6" rx="1" stroke-width="0.8" fill="#fff"/><rect x="770.60" y="511.80" width="4.6" height="4.6" rx="1" stroke-width="0.8" fill="#fff"/><rect x="770.60" y="524.70" width="4.6" height="4.6" rx="1" stroke-width="0.8" fill="#fff"/><line x1="705.40" y1="473.00" x2="712.40" y2="473.00" stroke-width="0.8"/><line x1="708.90" y1="469.50" x2="708.90" y2="476.50" stroke-width="0.8"/><rect x="706.90" y="471.50" width="4.00" height="3.00" stroke-width="0.7"/><line x1="705.40" y1="538.70" x2="712.40" y2="538.70" stroke-width="0.8"/><line x1="708.90" y1="535.20" x2="708.90" y2="542.20" stroke-width="0.8"/><rect x="706.90" y="537.20" width="4.00" height="3.00" stroke-width="0.7"/><rect x="771.40" y="476.70" width="19.70" height="60.90" stroke-width="0.9"/><rect x="771.40" y="476.70" width="19.70" height="5.30" stroke-width="1.0"/><rect x="771.40" y="532.30" width="19.70" height="5.30" stroke-width="1.0"/><line x1="778.30" y1="482.00" x2="778.30" y2="532.30" stroke-width="0.8"/><line x1="780.50" y1="482.00" x2="780.50" y2="532.30" stroke-width="0.8"/><line x1="783.70" y1="482.00" x2="783.70" y2="532.30" stroke-width="0.8"/><line x1="786.90" y1="482.00" x2="786.90" y2="532.30" stroke-width="0.8"/><rect x="786.90" y="482.00" width="1.60" height="50.30" stroke-width="0.6" fill="#777"/><circle cx="776.00" cy="479.30" r="1.20" fill="#333"/><circle cx="782.00" cy="479.30" r="1.20" fill="#333"/><circle cx="786.00" cy="535.00" r="1.20" fill="#333"/><rect x="795.80" y="487.40" width="247.10" height="39.50" stroke-width="0.8"/><line x1="791.90" y1="491.40" x2="1031.60" y2="491.40" stroke-width="0.9"/><line x1="791.90" y1="523.00" x2="1031.60" y2="523.00" stroke-width="0.9"/><line x1="1031.60" y1="491.40" x2="1031.60" y2="493.00" stroke-width="0.8"/><line x1="1031.60" y1="521.50" x2="1031.60" y2="523.00" stroke-width="0.8"/><line x1="791.90" y1="494.00" x2="1001.30" y2="494.00" stroke="#444" stroke-width="1.5"/><line x1="791.90" y1="519.60" x2="1001.30" y2="519.60" stroke="#444" stroke-width="1.5"/><line x1="791.90" y1="494.00" x2="791.90" y2="519.60" stroke-width="0.9"/><line x1="801.00" y1="491.40" x2="801.00" y2="523.00" stroke-width="0.8"/><line x1="803.00" y1="494.00" x2="803.00" y2="519.60" stroke-width="0.6"/><line x1="869.60" y1="491.40" x2="869.60" y2="523.00" stroke-width="0.8"/><line x1="871.60" y1="494.00" x2="871.60" y2="519.60" stroke-width="0.6"/><line x1="881.40" y1="491.40" x2="881.40" y2="523.00" stroke-width="0.8"/><line x1="883.40" y1="494.00" x2="883.40" y2="519.60" stroke-width="0.6"/><line x1="893.30" y1="491.40" x2="893.30" y2="523.00" stroke-width="0.8"/><line x1="895.30" y1="494.00" x2="895.30" y2="519.60" stroke-width="0.6"/><line x1="965.70" y1="491.40" x2="965.70" y2="523.00" stroke-width="0.8"/><line x1="967.70" y1="494.00" x2="967.70" y2="519.60" stroke-width="0.6"/><circle cx="801.00" cy="491.40" r="1.20" stroke-width="0.7"/><circle cx="801.00" cy="523.00" r="1.20" stroke-width="0.7"/><circle cx="881.40" cy="491.40" r="1.20" stroke-width="0.7"/><circle cx="881.40" cy="523.00" r="1.20" stroke-width="0.7"/><circle cx="965.70" cy="491.40" r="1.20" stroke-width="0.7"/><circle cx="965.70" cy="523.00" r="1.20" stroke-width="0.7"/><rect x="815.60" y="495.30" width="13.10" height="23.70" stroke-width="1.0"/><circle cx="822.15" cy="506.50" r="3.50" stroke-width="1.2"/><line x1="822.15" y1="497.00" x2="822.15" y2="516.00" stroke-width="0.8"/><path d="M818.1500000000001,498 l4,4 l4,-4 M818.1500000000001,515 l4,-4 l4,4" stroke-width="0.9"/><rect x="932.80" y="495.30" width="15.80" height="23.70" stroke-width="1.0"/><circle cx="940.70" cy="506.50" r="3.50" stroke-width="1.2"/><line x1="940.70" y1="497.00" x2="940.70" y2="516.00" stroke-width="0.8"/><path d="M936.7,498 l4,4 l4,-4 M936.7,515 l4,-4 l4,4" stroke-width="0.9"/><rect x="816.90" y="474.20" width="10.50" height="16.80" stroke-width="0.9"/><rect x="816.90" y="523.00" width="10.50" height="17.10" stroke-width="0.9"/><line x1="822.00" y1="472.00" x2="822.00" y2="542.00" stroke="#444" stroke-width="1.2"/><rect x="818.00" y="476.00" width="8.00" height="4.00" stroke-width="0.9" fill="#999"/><rect x="818.00" y="535.00" width="8.00" height="4.00" stroke-width="0.9" fill="#999"/><rect x="981.50" y="494.00" width="19.80" height="25.60" stroke-width="1.0"/><line x1="984.20" y1="475.60" x2="984.20" y2="537.50" stroke="#333" stroke-width="1.6"/><rect x="985.00" y="495.00" width="15.00" height="3.00" stroke-width="1.0" fill="#777"/><rect x="985.00" y="516.00" width="15.00" height="3.00" stroke-width="1.0" fill="#777"/><rect x="986.00" y="501.00" width="9.00" height="11.00" stroke-width="0.8"/><line x1="990.00" y1="501.00" x2="990.00" y2="512.00" stroke-width="0.7"/><rect x="996.00" y="503.00" width="4.00" height="7.00" stroke-width="0.7"/><path d="M980,478 l4,-4 l4,4 M980,534 l4,4 l4,-4" stroke-width="0.8"/><rect x="976.00" y="479.00" width="6.00" height="5.00" stroke-width="0.8"/><rect x="976.00" y="527.00" width="6.00" height="5.00" stroke-width="0.8"/><line x1="977.50" y1="475.00" x2="977.50" y2="480.00" stroke-width="0.7"/><rect x="782.60" y="476.90" width="6.60" height="59.30" stroke-width="0.9"/><line x1="784.50" y1="477.00" x2="784.50" y2="536.00" stroke="#555" stroke-width="1.0"/><line x1="787.30" y1="477.00" x2="787.30" y2="536.00" stroke="#555" stroke-width="1.0"/><rect x="782.00" y="476.90" width="8.00" height="3.10" stroke-width="0.8"/><rect x="782.00" y="533.00" width="8.00" height="3.20" stroke-width="0.8"/>
</g>
</svg></body></html>
